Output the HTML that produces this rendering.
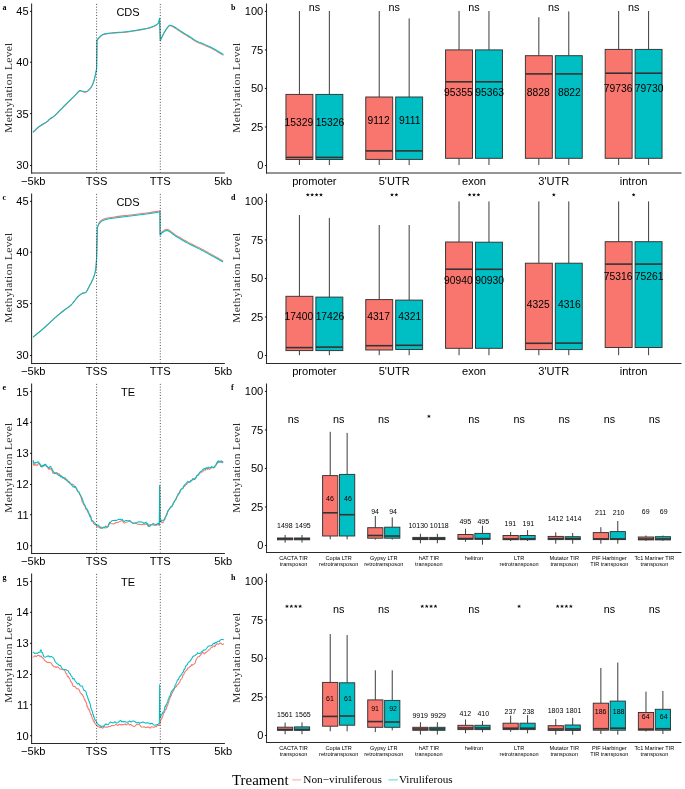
<!DOCTYPE html>
<html><head><meta charset="utf-8"><style>
html,body{margin:0;padding:0;background:#fff;}
svg{display:block;will-change:transform;}
</style></head><body>
<svg width="685" height="789" viewBox="0 0 685 789">
<rect x="0" y="0" width="685" height="789" fill="#fff"/>
<text x="2.6" y="10" font-size="8" text-anchor="start" font-family='"Liberation Serif", serif' font-weight="bold" fill="#000" >a</text>
<text transform="translate(12.2,87.6) rotate(-90)" font-size="11.4" letter-spacing="0.35" text-anchor="middle" font-family='"Liberation Serif", serif' fill="#2a2a2a">Methylation Level</text>
<line x1="31.6" y1="3.5" x2="31.6" y2="173.5" stroke="#2a2a2a" stroke-width="1.07" />
<line x1="31.1" y1="173" x2="224.9" y2="173" stroke="#2a2a2a" stroke-width="1" />
<line x1="30" y1="11.4" x2="31.6" y2="11.4" stroke="#000" stroke-width="0.9" />
<text x="28.6" y="15.3" font-size="11.1" text-anchor="end" font-family='"Liberation Sans", sans-serif' font-weight="normal" fill="#000" >45</text>
<line x1="30" y1="62.2" x2="31.6" y2="62.2" stroke="#000" stroke-width="0.9" />
<text x="28.6" y="66.1" font-size="11.1" text-anchor="end" font-family='"Liberation Sans", sans-serif' font-weight="normal" fill="#000" >40</text>
<line x1="30" y1="113.6" x2="31.6" y2="113.6" stroke="#000" stroke-width="0.9" />
<text x="28.6" y="117.5" font-size="11.1" text-anchor="end" font-family='"Liberation Sans", sans-serif' font-weight="normal" fill="#000" >35</text>
<line x1="30" y1="165.5" x2="31.6" y2="165.5" stroke="#000" stroke-width="0.9" />
<text x="28.6" y="169.4" font-size="11.1" text-anchor="end" font-family='"Liberation Sans", sans-serif' font-weight="normal" fill="#000" >30</text>
<text x="33.3" y="184.5" font-size="11.1" text-anchor="middle" font-family='"Liberation Sans", sans-serif' font-weight="normal" fill="#000" >&#8722;5kb</text>
<text x="96.6" y="184.5" font-size="11.1" text-anchor="middle" font-family='"Liberation Sans", sans-serif' font-weight="normal" fill="#000" >TSS</text>
<text x="160.3" y="184.5" font-size="11.1" text-anchor="middle" font-family='"Liberation Sans", sans-serif' font-weight="normal" fill="#000" >TTS</text>
<text x="223.3" y="184.5" font-size="11.1" text-anchor="middle" font-family='"Liberation Sans", sans-serif' font-weight="normal" fill="#000" >5kb</text>
<text x="128" y="15.7" font-size="11" text-anchor="middle" font-family='"Liberation Sans", sans-serif' font-weight="normal" fill="#000" >CDS</text>
<path d="M33.3,132.2 L33.91,131.62 L34.74,130.81 L35.73,129.85 L36.82,128.83 L37.96,127.82 L39.1,126.9 L40.31,126.05 L41.67,125.19 L43.07,124.34 L44.43,123.53 L45.67,122.78 L46.7,122.1 L47.46,121.52 L48.01,121.03 L48.44,120.59 L48.83,120.18 L49.25,119.76 L49.8,119.3 L50.45,118.84 L51.14,118.4 L51.86,117.96 L52.63,117.47 L53.44,116.89 L54.3,116.2 L55.21,115.37 L56.16,114.44 L57.16,113.43 L58.2,112.36 L59.28,111.24 L60.4,110.1 L61.58,108.92 L62.82,107.68 L64.1,106.39 L65.4,105.09 L66.71,103.78 L68,102.5 L69.32,101.19 L70.7,99.83 L72.09,98.46 L73.42,97.15 L74.64,95.95 L75.7,94.9 L76.57,94 L77.29,93.19 L77.89,92.49 L78.44,91.91 L78.96,91.44 L79.5,91.1 L80.05,90.93 L80.56,90.94 L81.05,91.08 L81.53,91.27 L82.01,91.46 L82.5,91.6 L83,91.72 L83.5,91.88 L83.99,92.04 L84.49,92.17 L84.99,92.24 L85.5,92.2 L86.01,92.06 L86.53,91.85 L87.05,91.58 L87.57,91.24 L88.09,90.84 L88.6,90.4 L89.11,89.9 L89.63,89.34 L90.15,88.73 L90.66,88.06 L91.14,87.35 L91.6,86.6 L92.03,85.82 L92.44,85 L92.82,84.14 L93.2,83.22 L93.55,82.25 L93.9,81.2 L94.24,80.02 L94.57,78.71 L94.89,77.34 L95.19,75.99 L95.46,74.71 L95.7,73.6 L95.91,72.62 L96.1,71.7 L96.26,70.88 L96.4,70.15 L96.51,69.55 L96.6,69.1 L97,40.3 L97.26,40.01 L97.62,39.6 L98.05,39.12 L98.52,38.6 L99.01,38.08 L99.5,37.6 L99.97,37.13 L100.44,36.64 L100.93,36.16 L101.45,35.69 L102.04,35.26 L102.7,34.9 L103.44,34.61 L104.25,34.37 L105.11,34.17 L106.03,34.01 L106.99,33.85 L108,33.7 L109.04,33.55 L110.11,33.43 L111.23,33.32 L112.41,33.21 L113.66,33.11 L115,33 L116.45,32.89 L118,32.79 L119.63,32.69 L121.29,32.59 L122.96,32.46 L124.6,32.3 L126.21,32.11 L127.82,31.9 L129.44,31.67 L131.07,31.42 L132.72,31.16 L134.4,30.9 L136.18,30.62 L138.05,30.32 L139.95,30.01 L141.79,29.69 L143.5,29.39 L145,29.1 L146.26,28.84 L147.33,28.6 L148.27,28.36 L149.13,28.13 L149.95,27.88 L150.8,27.6 L151.67,27.3 L152.51,26.99 L153.33,26.67 L154.11,26.33 L154.83,25.97 L155.5,25.6 L156.11,25.22 L156.66,24.84 L157.17,24.45 L157.63,24.02 L158.04,23.54 L158.4,23 L158.71,22.32 L158.97,21.5 L159.18,20.64 L159.35,19.81 L159.49,19.1 L159.6,18.6 L160.3,40.8 L160.53,40.3 L160.84,39.6 L161.22,38.78 L161.63,37.89 L162.07,36.97 L162.5,36.1 L162.94,35.24 L163.39,34.35 L163.87,33.44 L164.36,32.54 L164.87,31.65 L165.4,30.8 L165.96,29.94 L166.57,29.06 L167.2,28.19 L167.81,27.4 L168.39,26.72 L168.9,26.2 L169.3,25.85 L169.6,25.64 L169.86,25.54 L170.14,25.54 L170.5,25.63 L171,25.8 L171.65,26.07 L172.41,26.46 L173.24,26.94 L174.13,27.48 L175.02,28.04 L175.9,28.6 L176.73,29.15 L177.54,29.71 L178.36,30.29 L179.24,30.91 L180.2,31.58 L181.3,32.3 L182.58,33.1 L184.02,33.98 L185.55,34.91 L187.1,35.84 L188.61,36.75 L190,37.6 L191.18,38.37 L192.2,39.07 L193.17,39.75 L194.21,40.44 L195.45,41.18 L197,42 L198.95,42.91 L201.22,43.87 L203.68,44.89 L206.21,45.94 L208.7,47.01 L211,48.1 L213.27,49.3 L215.62,50.63 L217.93,51.98 L220.03,53.25 L221.81,54.33 L223.1,55.1" fill="none" stroke="#F8766D" stroke-width="1.05" stroke-linejoin="round" stroke-linecap="round"/>
<path d="M33.3,131.8 L33.91,131.22 L34.74,130.41 L35.73,129.45 L36.82,128.43 L37.96,127.42 L39.1,126.5 L40.31,125.65 L41.67,124.79 L43.07,123.94 L44.43,123.13 L45.67,122.38 L46.7,121.7 L47.46,121.12 L48.01,120.63 L48.44,120.19 L48.83,119.78 L49.25,119.36 L49.8,118.9 L50.45,118.44 L51.14,118 L51.86,117.56 L52.63,117.07 L53.44,116.49 L54.3,115.8 L55.21,114.97 L56.16,114.04 L57.16,113.03 L58.2,111.96 L59.28,110.84 L60.4,109.7 L61.58,108.52 L62.82,107.28 L64.1,105.99 L65.4,104.69 L66.71,103.38 L68,102.1 L69.32,100.79 L70.7,99.43 L72.09,98.06 L73.42,96.75 L74.64,95.55 L75.7,94.5 L76.57,93.6 L77.29,92.79 L77.89,92.09 L78.44,91.51 L78.96,91.04 L79.5,90.7 L80.05,90.53 L80.56,90.54 L81.05,90.67 L81.53,90.87 L82.01,91.06 L82.5,91.2 L83,91.32 L83.5,91.48 L83.99,91.64 L84.49,91.77 L84.99,91.84 L85.5,91.8 L86.01,91.66 L86.53,91.45 L87.05,91.17 L87.57,90.84 L88.09,90.44 L88.6,90 L89.11,89.5 L89.63,88.94 L90.15,88.32 L90.66,87.66 L91.14,86.95 L91.6,86.2 L92.03,85.42 L92.44,84.6 L92.82,83.74 L93.2,82.82 L93.55,81.85 L93.9,80.8 L94.24,79.62 L94.57,78.31 L94.89,76.94 L95.19,75.59 L95.46,74.31 L95.7,73.2 L95.91,72.22 L96.1,71.3 L96.26,70.48 L96.4,69.75 L96.51,69.15 L96.6,68.7 L97,39.9 L97.26,39.61 L97.62,39.2 L98.05,38.72 L98.52,38.2 L99.01,37.68 L99.5,37.2 L99.97,36.73 L100.44,36.24 L100.93,35.76 L101.45,35.29 L102.04,34.86 L102.7,34.5 L103.44,34.21 L104.25,33.97 L105.11,33.77 L106.03,33.61 L106.99,33.45 L108,33.3 L109.04,33.15 L110.11,33.03 L111.23,32.92 L112.41,32.81 L113.66,32.71 L115,32.6 L116.45,32.49 L118,32.39 L119.63,32.29 L121.29,32.19 L122.96,32.06 L124.6,31.9 L126.21,31.71 L127.82,31.5 L129.44,31.27 L131.07,31.02 L132.72,30.76 L134.4,30.5 L136.18,30.22 L138.05,29.92 L139.95,29.61 L141.79,29.29 L143.5,28.99 L145,28.7 L146.26,28.44 L147.33,28.2 L148.27,27.96 L149.13,27.73 L149.95,27.48 L150.8,27.2 L151.67,26.9 L152.51,26.59 L153.33,26.27 L154.11,25.93 L154.83,25.57 L155.5,25.2 L156.11,24.82 L156.66,24.44 L157.17,24.05 L157.63,23.62 L158.04,23.14 L158.4,22.6 L158.71,21.92 L158.97,21.1 L159.18,20.24 L159.35,19.41 L159.49,18.7 L159.6,18.2 L160.3,40.4 L160.53,39.9 L160.84,39.2 L161.22,38.38 L161.63,37.49 L162.07,36.57 L162.5,35.7 L162.94,34.84 L163.39,33.95 L163.87,33.04 L164.36,32.14 L164.87,31.25 L165.4,30.4 L165.96,29.54 L166.57,28.66 L167.2,27.79 L167.81,27 L168.39,26.32 L168.9,25.8 L169.3,25.46 L169.6,25.25 L169.86,25.16 L170.14,25.17 L170.5,25.26 L171,25.4 L171.65,25.62 L172.41,25.94 L173.24,26.34 L174.13,26.8 L175.02,27.29 L175.9,27.8 L176.73,28.32 L177.54,28.88 L178.36,29.47 L179.24,30.1 L180.2,30.78 L181.3,31.5 L182.58,32.3 L184.02,33.18 L185.55,34.11 L187.1,35.04 L188.61,35.95 L190,36.8 L191.18,37.57 L192.2,38.27 L193.17,38.95 L194.21,39.64 L195.45,40.38 L197,41.2 L198.95,42.11 L201.22,43.07 L203.68,44.09 L206.21,45.14 L208.7,46.21 L211,47.3 L213.27,48.5 L215.62,49.83 L217.93,51.18 L220.03,52.45 L221.81,53.53 L223.1,54.3" fill="none" stroke="#00BFC4" stroke-width="1.05" stroke-linejoin="round" stroke-linecap="round"/>
<line x1="96.6" y1="3.9" x2="96.6" y2="172.4" stroke="#1a1a1a" stroke-width="0.85" stroke-dasharray="0.9 1.9"/>
<line x1="160.3" y1="3.9" x2="160.3" y2="172.4" stroke="#1a1a1a" stroke-width="0.85" stroke-dasharray="0.9 1.9"/>
<text x="2.6" y="200" font-size="8" text-anchor="start" font-family='"Liberation Serif", serif' font-weight="bold" fill="#000" >c</text>
<text transform="translate(12.2,277.6) rotate(-90)" font-size="11.4" letter-spacing="0.35" text-anchor="middle" font-family='"Liberation Serif", serif' fill="#2a2a2a">Methylation Level</text>
<line x1="31.6" y1="193.5" x2="31.6" y2="364" stroke="#2a2a2a" stroke-width="1.07" />
<line x1="31.1" y1="363.5" x2="224.9" y2="363.5" stroke="#2a2a2a" stroke-width="1" />
<line x1="30" y1="201.4" x2="31.6" y2="201.4" stroke="#000" stroke-width="0.9" />
<text x="28.6" y="205.3" font-size="11.1" text-anchor="end" font-family='"Liberation Sans", sans-serif' font-weight="normal" fill="#000" >45</text>
<line x1="30" y1="252.2" x2="31.6" y2="252.2" stroke="#000" stroke-width="0.9" />
<text x="28.6" y="256.1" font-size="11.1" text-anchor="end" font-family='"Liberation Sans", sans-serif' font-weight="normal" fill="#000" >40</text>
<line x1="30" y1="303.6" x2="31.6" y2="303.6" stroke="#000" stroke-width="0.9" />
<text x="28.6" y="307.5" font-size="11.1" text-anchor="end" font-family='"Liberation Sans", sans-serif' font-weight="normal" fill="#000" >35</text>
<line x1="30" y1="355.5" x2="31.6" y2="355.5" stroke="#000" stroke-width="0.9" />
<text x="28.6" y="359.4" font-size="11.1" text-anchor="end" font-family='"Liberation Sans", sans-serif' font-weight="normal" fill="#000" >30</text>
<text x="33.3" y="374.5" font-size="11.1" text-anchor="middle" font-family='"Liberation Sans", sans-serif' font-weight="normal" fill="#000" >&#8722;5kb</text>
<text x="96.6" y="374.5" font-size="11.1" text-anchor="middle" font-family='"Liberation Sans", sans-serif' font-weight="normal" fill="#000" >TSS</text>
<text x="160.3" y="374.5" font-size="11.1" text-anchor="middle" font-family='"Liberation Sans", sans-serif' font-weight="normal" fill="#000" >TTS</text>
<text x="223.3" y="374.5" font-size="11.1" text-anchor="middle" font-family='"Liberation Sans", sans-serif' font-weight="normal" fill="#000" >5kb</text>
<text x="128" y="205.7" font-size="11" text-anchor="middle" font-family='"Liberation Sans", sans-serif' font-weight="normal" fill="#000" >CDS</text>
<path d="M33.3,336.9 L34.28,336.1 L35.66,335 L37.27,333.69 L39,332.28 L40.69,330.88 L42.2,329.6 L43.54,328.41 L44.83,327.24 L46.08,326.08 L47.31,324.91 L48.55,323.76 L49.8,322.6 L51.07,321.43 L52.33,320.26 L53.6,319.09 L54.87,317.94 L56.13,316.8 L57.4,315.7 L58.68,314.62 L59.99,313.55 L61.29,312.51 L62.58,311.49 L63.82,310.52 L65,309.6 L66.1,308.79 L67.12,308.09 L68.1,307.44 L69.07,306.75 L70.06,305.96 L71.1,305 L72.22,303.77 L73.4,302.33 L74.59,300.77 L75.77,299.24 L76.89,297.84 L77.9,296.7 L78.81,295.82 L79.64,295.12 L80.41,294.56 L81.13,294.09 L81.82,293.68 L82.5,293.3 L83.15,293.03 L83.75,292.92 L84.33,292.87 L84.88,292.78 L85.44,292.56 L86,292.1 L86.57,291.38 L87.13,290.49 L87.68,289.45 L88.24,288.33 L88.81,287.16 L89.4,286 L90.03,284.84 L90.69,283.63 L91.36,282.39 L92.01,281.1 L92.64,279.77 L93.2,278.4 L93.71,277.02 L94.19,275.65 L94.62,274.23 L95.03,272.73 L95.39,271.1 L95.7,269.3 L95.97,267.12 L96.18,264.57 L96.36,261.88 L96.5,259.32 L96.61,257.14 L96.7,255.6 L97.3,227.6 L97.56,226.92 L97.89,225.96 L98.29,224.84 L98.76,223.67 L99.3,222.58 L99.9,221.7 L100.54,221.02 L101.21,220.44 L101.95,219.94 L102.79,219.5 L103.76,219.1 L104.9,218.7 L106.23,218.33 L107.74,218 L109.38,217.71 L111.11,217.43 L112.9,217.17 L114.7,216.9 L116.55,216.63 L118.48,216.37 L120.47,216.13 L122.49,215.88 L124.5,215.64 L126.5,215.4 L128.48,215.16 L130.46,214.93 L132.45,214.71 L134.44,214.48 L136.42,214.24 L138.4,214 L140.41,213.74 L142.45,213.47 L144.49,213.2 L146.49,212.93 L148.4,212.66 L150.2,212.4 L151.94,212.14 L153.68,211.88 L155.34,211.63 L156.84,211.39 L158.12,211.17 L159.1,211 L159.71,210.87 L160,210.78 L160.06,210.71 L159.99,210.67 L159.91,210.63 L159.9,210.6 L160.1,234.1 L160.39,233.76 L160.78,233.27 L161.24,232.69 L161.78,232.1 L162.37,231.55 L163,231.1 L163.67,230.68 L164.37,230.23 L165.14,229.82 L165.97,229.53 L166.89,229.43 L167.9,229.6 L169,230.1 L170.17,230.86 L171.42,231.83 L172.77,232.9 L174.22,234.02 L175.8,235.1 L177.52,236.17 L179.37,237.3 L181.33,238.46 L183.37,239.65 L185.47,240.83 L187.6,242 L189.81,243.15 L192.12,244.31 L194.49,245.47 L196.87,246.63 L199.19,247.77 L201.4,248.9 L203.52,250.02 L205.6,251.14 L207.63,252.25 L209.59,253.34 L211.48,254.39 L213.3,255.4 L215.12,256.41 L216.97,257.45 L218.74,258.46 L220.36,259.37 L221.71,260.14 L222.7,260.7" fill="none" stroke="#F8766D" stroke-width="1.05" stroke-linejoin="round" stroke-linecap="round"/>
<path d="M33.3,336.9 L34.28,336.1 L35.66,335 L37.27,333.69 L39,332.28 L40.69,330.88 L42.2,329.6 L43.54,328.41 L44.83,327.24 L46.08,326.08 L47.31,324.91 L48.55,323.76 L49.8,322.6 L51.07,321.43 L52.33,320.26 L53.6,319.09 L54.87,317.94 L56.13,316.8 L57.4,315.7 L58.68,314.62 L59.99,313.55 L61.29,312.51 L62.58,311.49 L63.82,310.52 L65,309.6 L66.1,308.79 L67.12,308.09 L68.1,307.44 L69.07,306.75 L70.06,305.96 L71.1,305 L72.22,303.77 L73.4,302.33 L74.59,300.77 L75.77,299.24 L76.89,297.84 L77.9,296.7 L78.81,295.82 L79.64,295.12 L80.41,294.56 L81.13,294.09 L81.82,293.68 L82.5,293.3 L83.15,293.03 L83.75,292.92 L84.33,292.87 L84.88,292.78 L85.44,292.56 L86,292.1 L86.57,291.38 L87.13,290.49 L87.68,289.45 L88.24,288.33 L88.81,287.16 L89.4,286 L90.03,284.84 L90.69,283.63 L91.36,282.39 L92.01,281.1 L92.64,279.77 L93.2,278.4 L93.71,277.02 L94.19,275.65 L94.62,274.23 L95.03,272.73 L95.39,271.1 L95.7,269.3 L95.97,267.12 L96.18,264.57 L96.36,261.88 L96.5,259.32 L96.61,257.14 L96.7,255.6 L97.3,227.6 L97.56,227.06 L97.89,226.29 L98.29,225.39 L98.76,224.44 L99.3,223.55 L99.9,222.8 L100.54,222.18 L101.21,221.62 L101.95,221.11 L102.79,220.64 L103.76,220.21 L104.9,219.8 L106.23,219.43 L107.74,219.1 L109.38,218.81 L111.11,218.53 L112.9,218.27 L114.7,218 L116.55,217.73 L118.48,217.47 L120.47,217.23 L122.49,216.98 L124.5,216.74 L126.5,216.5 L128.48,216.26 L130.46,216.03 L132.45,215.81 L134.44,215.58 L136.42,215.34 L138.4,215.1 L140.41,214.84 L142.45,214.57 L144.49,214.3 L146.49,214.03 L148.4,213.76 L150.2,213.5 L151.94,213.24 L153.68,212.98 L155.34,212.73 L156.84,212.49 L158.12,212.27 L159.1,212.1 L159.71,211.97 L160,211.88 L160.06,211.81 L159.99,211.77 L159.91,211.73 L159.9,211.7 L160.1,235.2 L160.39,234.86 L160.78,234.37 L161.24,233.79 L161.78,233.2 L162.37,232.65 L163,232.2 L163.67,231.78 L164.37,231.33 L165.14,230.92 L165.97,230.63 L166.89,230.53 L167.9,230.7 L169,231.2 L170.17,231.96 L171.42,232.92 L172.77,234 L174.22,235.12 L175.8,236.2 L177.52,237.27 L179.37,238.4 L181.33,239.56 L183.37,240.75 L185.47,241.93 L187.6,243.1 L189.81,244.25 L192.12,245.41 L194.49,246.58 L196.87,247.73 L199.19,248.87 L201.4,250 L203.52,251.12 L205.6,252.24 L207.63,253.35 L209.59,254.44 L211.48,255.49 L213.3,256.5 L215.12,257.51 L216.97,258.55 L218.74,259.56 L220.36,260.47 L221.71,261.24 L222.7,261.8" fill="none" stroke="#00BFC4" stroke-width="1.05" stroke-linejoin="round" stroke-linecap="round"/>
<line x1="96.6" y1="193.9" x2="96.6" y2="362.4" stroke="#1a1a1a" stroke-width="0.85" stroke-dasharray="0.9 1.9"/>
<line x1="160.3" y1="193.9" x2="160.3" y2="362.4" stroke="#1a1a1a" stroke-width="0.85" stroke-dasharray="0.9 1.9"/>
<text x="2.6" y="390" font-size="8" text-anchor="start" font-family='"Liberation Serif", serif' font-weight="bold" fill="#000" >e</text>
<text transform="translate(12.2,467.6) rotate(-90)" font-size="11.4" letter-spacing="0.35" text-anchor="middle" font-family='"Liberation Serif", serif' fill="#2a2a2a">Methylation Level</text>
<line x1="31.6" y1="383.5" x2="31.6" y2="554" stroke="#2a2a2a" stroke-width="1.07" />
<line x1="31.1" y1="553.5" x2="224.9" y2="553.5" stroke="#2a2a2a" stroke-width="1" />
<line x1="30" y1="391.6" x2="31.6" y2="391.6" stroke="#000" stroke-width="0.9" />
<text x="28.6" y="395.5" font-size="11.1" text-anchor="end" font-family='"Liberation Sans", sans-serif' font-weight="normal" fill="#000" >15</text>
<line x1="30" y1="422.3" x2="31.6" y2="422.3" stroke="#000" stroke-width="0.9" />
<text x="28.6" y="426.2" font-size="11.1" text-anchor="end" font-family='"Liberation Sans", sans-serif' font-weight="normal" fill="#000" >14</text>
<line x1="30" y1="453.3" x2="31.6" y2="453.3" stroke="#000" stroke-width="0.9" />
<text x="28.6" y="457.2" font-size="11.1" text-anchor="end" font-family='"Liberation Sans", sans-serif' font-weight="normal" fill="#000" >13</text>
<line x1="30" y1="484.5" x2="31.6" y2="484.5" stroke="#000" stroke-width="0.9" />
<text x="28.6" y="488.4" font-size="11.1" text-anchor="end" font-family='"Liberation Sans", sans-serif' font-weight="normal" fill="#000" >12</text>
<line x1="30" y1="514.7" x2="31.6" y2="514.7" stroke="#000" stroke-width="0.9" />
<text x="28.6" y="518.6" font-size="11.1" text-anchor="end" font-family='"Liberation Sans", sans-serif' font-weight="normal" fill="#000" >11</text>
<line x1="30" y1="545.7" x2="31.6" y2="545.7" stroke="#000" stroke-width="0.9" />
<text x="28.6" y="549.6" font-size="11.1" text-anchor="end" font-family='"Liberation Sans", sans-serif' font-weight="normal" fill="#000" >10</text>
<text x="33.3" y="564.5" font-size="11.1" text-anchor="middle" font-family='"Liberation Sans", sans-serif' font-weight="normal" fill="#000" >&#8722;5kb</text>
<text x="96.6" y="564.5" font-size="11.1" text-anchor="middle" font-family='"Liberation Sans", sans-serif' font-weight="normal" fill="#000" >TSS</text>
<text x="160.3" y="564.5" font-size="11.1" text-anchor="middle" font-family='"Liberation Sans", sans-serif' font-weight="normal" fill="#000" >TTS</text>
<text x="223.3" y="564.5" font-size="11.1" text-anchor="middle" font-family='"Liberation Sans", sans-serif' font-weight="normal" fill="#000" >5kb</text>
<text x="128" y="395.7" font-size="11" text-anchor="middle" font-family='"Liberation Sans", sans-serif' font-weight="normal" fill="#000" >TE</text>
<path d="M33.2,461.67 L33.29,462.44 L33.39,463.3 L33.52,464.42 L33.72,464.85 L34,465.66 L34.4,464.19 L34.97,464.24 L35.71,465.18 L36.54,464.9 L37.38,465.21 L38.16,463.64 L38.8,463.67 L39.28,463.44 L39.64,464.24 L39.95,465.02 L40.24,464.45 L40.58,464.73 L41,465.05 L41.52,466.54 L42.1,466.89 L42.71,465.62 L43.35,466.24 L43.98,465.12 L44.6,465.66 L45.21,465.09 L45.82,464.73 L46.44,466.68 L47.04,466.52 L47.63,466.6 L48.2,468.42 L48.74,469.16 L49.25,468.25 L49.74,469.21 L50.23,468.84 L50.71,469.06 L51.2,468.37 L51.66,469.99 L52.09,470.76 L52.52,472.22 L52.97,473.26 L53.49,472.84 L54.1,472.96 L54.83,472.73 L55.66,472.66 L56.56,472.56 L57.47,473.15 L58.37,474.3 L59.2,473.83 L59.97,475.32 L60.72,475.66 L61.44,476.05 L62.16,477.64 L62.87,478.01 L63.6,478.06 L64.33,478.63 L65.07,479.6 L65.81,478.89 L66.54,480.71 L67.27,479.85 L68,481.26 L68.72,482.58 L69.44,481.86 L70.15,483.52 L70.86,483.86 L71.58,484.83 L72.3,484.38 L73.04,484.39 L73.79,484.84 L74.54,486.97 L75.28,486.7 L76.01,488.09 L76.7,489.68 L77.36,491.1 L77.99,491.11 L78.6,491.73 L79.2,493.05 L79.8,494.96 L80.4,495.18 L81,497.42 L81.58,499.54 L82.16,501.62 L82.74,501.69 L83.35,504.42 L84,504.64 L84.69,505.81 L85.41,507.52 L86.15,509.61 L86.9,510.01 L87.66,512.08 L88.4,513.05 L89.13,513.86 L89.5,514.32 L89.87,514.64 L90.23,515.01 L90.6,515.76 L90.97,517.73 L91.33,519.88 L92.07,520.31 L92.8,520.75 L93.53,523.4 L94.27,524.17 L95.01,524.57 L95.74,524.64 L96.47,525.67 L97.2,526.95 L97.9,527.01 L98.58,527.1 L99.26,526.43 L99.95,528 L100.69,526.93 L101.5,527.33 L102.43,528.23 L103.46,527.04 L104.54,527.55 L105.6,528.14 L106.57,527.58 L107.4,527.43 L108.01,525.6 L108.43,525.01 L108.76,523.76 L109.12,524.33 L109.6,523.22 L110.3,522.82 L111.28,523.72 L112.46,523.81 L113.77,524.08 L115.11,523.02 L116.42,522.47 L117.6,522.65 L118.64,522.16 L119.61,521.44 L120.54,521.28 L121.46,520.63 L122.4,520.78 L123.4,522.23 L124.42,523 L125.43,522.74 L126.46,522.37 L127.55,521.88 L128.72,521.13 L130,521.19 L131.45,522.43 L133.06,523.42 L134.76,522.95 L136.46,523.73 L138.1,524.22 L139.6,524.38 L141.02,524.43 L142.42,524.71 L143.76,524.02 L144.98,524.43 L146.05,523.79 L146.9,523.99 L147.44,524.86 L147.67,525.35 L147.74,524.89 L147.8,526.2 L147.97,526.34 L148.4,526.24 L149.13,524.85 L150.04,525.14 L151.07,524.52 L152.16,524.98 L153.22,524.68 L154.2,525.25 L155.15,525.16 L156.14,525.41 L157.11,524.52 L158,524.66 L158.75,524.92 L159.3,525.24 L159.31,523.5 L159.32,523.22 L159.33,522.72 L159.34,521.64 L159.35,521.27 L159.36,520.63 L159.37,518.9 L159.37,517.57 L159.38,515.63 L159.39,515.64 L159.4,515.46 L159.41,513.94 L159.42,513.17 L159.43,512.41 L159.44,511.61 L159.45,509.53 L159.46,509.32 L159.47,508.37 L159.48,507.62 L159.49,506.27 L159.5,505.56 L159.5,505.1 L159.51,504.14 L159.52,503.39 L159.53,501.05 L159.54,499.65 L159.55,499.09 L159.56,498.84 L159.57,497.35 L159.58,497.15 L159.59,496.52 L159.6,494.47 L159.61,493.88 L159.62,492.61 L159.63,491.13 L159.63,490.09 L159.64,489.51 L159.65,488.49 L159.66,487.55 L159.67,486.28 L159.68,486.12 L159.69,485.44 L159.7,485.18 L159.71,486.39 L159.71,486.69 L159.72,488.73 L159.73,488.28 L159.74,489.33 L159.75,490.04 L159.75,491.13 L159.76,491.49 L159.77,493.68 L159.77,494.28 L159.78,494.28 L159.79,495.97 L159.8,496.16 L159.81,497.67 L159.81,498.46 L159.82,499.83 L159.83,501.83 L159.83,503.03 L159.84,503.22 L159.85,504.6 L159.86,505.4 L159.87,505.65 L159.87,505.7 L159.88,507.13 L159.89,508.26 L159.89,510.16 L159.9,511.63 L159.91,512.07 L159.92,512.15 L159.93,513.8 L159.93,513.15 L159.94,513.44 L159.95,515.02 L159.95,516.41 L159.96,516.54 L159.97,518.09 L159.98,519.94 L159.99,520.23 L159.99,520.92 L160,521.26 L160.39,521.03 L160.91,522.42 L161.53,521.84 L162.23,522.64 L162.96,522.65 L163.7,521.43 L164.48,519.21 L164.9,519.44 L165.32,518.13 L165.76,516.74 L166.21,515.35 L166.65,515.59 L167.1,514.2 L167.54,512.59 L167.97,511.71 L168.8,509.38 L169.57,508.77 L170.32,507.64 L171.04,506.27 L171.76,506.17 L172.47,505.72 L173.2,503.11 L173.94,502.18 L174.7,500.45 L175.45,500.31 L176.19,499.27 L176.91,496.93 L177.6,495.17 L178.23,493.44 L178.8,493.81 L179.36,491.99 L179.92,491.22 L180.52,490.08 L181.2,489.43 L181.97,488.64 L182.81,488.2 L183.7,486.29 L184.6,486.37 L185.47,485.11 L186.3,484.64 L187.07,483.65 L187.82,482.75 L188.54,482.51 L189.26,481.98 L189.97,481.22 L190.7,481.4 L191.43,480.95 L192.17,479.31 L192.9,478.7 L193.63,478.59 L194.37,479.28 L195.1,479.26 L195.82,478.09 L196.51,475.84 L197.21,475.84 L197.93,474.64 L198.69,473.94 L199.5,473.54 L200.4,472.87 L201.38,471.87 L202.4,471.99 L203.42,470.67 L204.4,469.77 L205.3,470.14 L206.1,468.87 L206.82,468.41 L207.5,469.36 L208.18,468.18 L208.9,469.16 L209.7,469.21 L210.62,468.44 L211.64,467.45 L212.69,467.74 L213.73,467.93 L214.68,466.08 L215.5,465.56 L216.13,465.13 L216.63,464.43 L217.04,463.35 L217.43,462.1 L217.86,462.16 L218.4,462.6 L219.1,461.22 L219.92,460.87 L220.78,462.05 L221.6,462.7 L222.3,462.82 L222.8,461.48" fill="none" stroke="#F8766D" stroke-width="1.05" stroke-linejoin="round" stroke-linecap="round"/>
<path d="M33.2,460.61 L33.29,460.37 L33.39,461.67 L33.52,461.43 L33.72,462.58 L34,463.01 L34.4,462.61 L34.97,463.29 L35.71,462.48 L36.54,462.77 L37.38,462.03 L38.16,461.66 L38.8,462.3 L39.28,463.78 L39.64,463.33 L39.95,463.57 L40.24,464.82 L40.58,466.36 L41,466.42 L41.52,465.97 L42.1,466.86 L42.71,465.18 L43.35,465.95 L43.98,465.11 L44.6,464.44 L45.21,464.21 L45.82,464.74 L46.44,466.39 L47.04,466.11 L47.63,467 L48.2,467.7 L48.74,467.49 L49.25,467.72 L49.74,466.76 L50.23,466.25 L50.71,466.42 L51.2,467.79 L51.66,468.36 L52.09,468.85 L52.52,470.15 L52.97,470.97 L53.49,471.41 L54.1,472.95 L54.83,473.71 L55.66,473.24 L56.56,473.82 L57.47,474.15 L58.37,475.27 L59.2,475.78 L59.97,475.36 L60.72,476.91 L61.44,476.13 L62.16,476.62 L62.87,477.88 L63.6,477.45 L64.33,478.13 L65.07,477.68 L65.81,479 L66.54,480.12 L67.27,480.56 L68,481.74 L68.72,481.5 L69.44,482.58 L70.15,483.31 L70.86,484.04 L71.58,484.48 L72.3,485.83 L73.04,486.99 L73.79,486.74 L74.54,487.19 L75.28,486.34 L76.01,487.6 L76.7,488.6 L77.36,490.44 L77.99,491.62 L78.6,491.67 L79.2,492.54 L79.8,494.27 L80.4,494.43 L81,496.19 L81.58,497.3 L82.16,498.57 L82.74,499.89 L83.35,502.86 L84,503.68 L84.69,504.9 L85.41,506.35 L86.15,508.69 L86.9,508.75 L87.66,510.17 L88.4,511.83 L89.13,514.26 L89.5,515.47 L89.87,516.61 L90.23,516.35 L90.6,516.9 L90.97,517.45 L91.33,519.3 L92.07,521.56 L92.8,521.49 L93.53,521.84 L94.27,522.47 L95.01,523.07 L95.74,524.18 L96.47,525.23 L97.2,525.29 L97.9,524.93 L98.58,525.76 L99.26,526.2 L99.95,526.93 L100.69,528.19 L101.5,528.28 L102.43,527.86 L103.46,527.73 L104.54,527.63 L105.6,526.03 L106.57,526.83 L107.4,526.82 L108.01,526.77 L108.43,526.27 L108.76,524.81 L109.12,523.75 L109.6,522.3 L110.3,522.54 L111.28,521.32 L112.46,520.59 L113.77,520.44 L115.11,520.2 L116.42,520.42 L117.6,519.85 L118.64,519.38 L119.61,519.43 L120.54,519.33 L121.46,519.85 L122.4,519.4 L123.4,521.04 L124.42,521.4 L125.43,520.63 L126.46,520.49 L127.55,520.68 L128.72,520.89 L130,520.55 L131.45,522.05 L133.06,523.3 L134.76,522.94 L136.46,522.88 L138.1,522.06 L139.6,521.7 L141.02,522.08 L142.42,522.14 L143.76,523.45 L144.98,522.75 L146.05,522.12 L146.9,523.91 L147.44,524.11 L147.67,523.55 L147.74,524.28 L147.8,523.66 L147.97,524.49 L148.4,525.93 L149.13,526.37 L150.04,526.12 L151.07,524.9 L152.16,524.34 L153.22,523.5 L154.2,524.32 L155.15,524.22 L156.14,524.67 L157.11,523.89 L158,523.2 L158.75,524.1 L159.3,524.96 L159.31,524.27 L159.32,523.38 L159.33,522.52 L159.34,521.46 L159.35,519.35 L159.36,518.42 L159.37,517.15 L159.37,515.33 L159.38,513.92 L159.39,513.29 L159.4,512.49 L159.41,512.61 L159.42,512.84 L159.43,511.45 L159.44,511.35 L159.45,511.01 L159.46,510.34 L159.47,508.27 L159.48,506.41 L159.49,504.99 L159.5,503.74 L159.5,502.67 L159.51,502.6 L159.52,502.76 L159.53,502.31 L159.54,500.87 L159.55,500.05 L159.56,499.52 L159.57,497.25 L159.58,496.86 L159.59,496.79 L159.6,496.06 L159.61,495.19 L159.62,493.71 L159.63,491.83 L159.63,491.73 L159.64,490.27 L159.65,490.09 L159.66,489.96 L159.67,488.22 L159.68,486.87 L159.69,486.92 L159.7,486.06 L159.71,485.77 L159.71,485.92 L159.72,486.47 L159.73,488.85 L159.74,490.34 L159.75,490.13 L159.75,491.91 L159.76,493.65 L159.77,494.3 L159.77,494.39 L159.78,495.29 L159.79,495.28 L159.8,495.42 L159.81,498.02 L159.81,499.15 L159.82,499.91 L159.83,501.64 L159.83,501.9 L159.84,503.42 L159.85,504.56 L159.86,504.25 L159.87,504.58 L159.87,505.26 L159.88,505.93 L159.89,507.47 L159.89,508.01 L159.9,509.06 L159.91,509.42 L159.92,511.74 L159.93,512.21 L159.93,513.1 L159.94,514.28 L159.95,516.05 L159.95,516.36 L159.96,518.04 L159.97,518.46 L159.98,519.17 L159.99,519.95 L159.99,519.68 L160,520.87 L160.39,520.39 L160.91,519.76 L161.53,521.12 L162.23,520.33 L162.96,520.23 L163.7,520.2 L164.48,519.01 L164.9,517.7 L165.32,517.04 L165.76,516.27 L166.21,515.93 L166.65,513.8 L167.1,513.18 L167.54,511.77 L167.97,510.64 L168.8,510.04 L169.57,508.71 L170.32,507.68 L171.04,507.14 L171.76,506.75 L172.47,505.02 L173.2,503.87 L173.94,502.35 L174.7,500.89 L175.45,499.84 L176.19,498.11 L176.91,496.75 L177.6,495.35 L178.23,495.09 L178.8,493.9 L179.36,493.15 L179.92,492.41 L180.52,490.08 L181.2,489.06 L181.97,489 L182.81,488.43 L183.7,486.28 L184.6,484.78 L185.47,484.37 L186.3,483.03 L187.07,482.38 L187.82,481.38 L188.54,481.89 L189.26,482.16 L189.97,482.31 L190.7,480.52 L191.43,480.57 L192.17,480.29 L192.9,478.82 L193.63,479.41 L194.37,479.66 L195.1,477.82 L195.82,478.02 L196.51,476.46 L197.21,475.36 L197.93,475.44 L198.69,474.76 L199.5,472.61 L200.4,471.74 L201.38,471.14 L202.4,470.15 L203.42,469.06 L204.4,468.54 L205.3,469 L206.1,467.67 L206.82,468.14 L207.5,468.17 L208.18,467.25 L208.9,467.35 L209.7,467.88 L210.62,467.7 L211.64,466.38 L212.69,467.42 L213.73,467.3 L214.68,467.38 L215.5,465.28 L216.13,464.17 L216.63,462.71 L217.04,463.22 L217.43,462.1 L217.86,460.98 L218.4,460.91 L219.1,461.96 L219.92,462.39 L220.78,461.47 L221.6,460.79 L222.3,462.16 L222.8,462.13" fill="none" stroke="#00BFC4" stroke-width="1.05" stroke-linejoin="round" stroke-linecap="round"/>
<line x1="96.6" y1="383.9" x2="96.6" y2="552.4" stroke="#1a1a1a" stroke-width="0.85" stroke-dasharray="0.9 1.9"/>
<line x1="160.3" y1="383.9" x2="160.3" y2="552.4" stroke="#1a1a1a" stroke-width="0.85" stroke-dasharray="0.9 1.9"/>
<text x="2.6" y="580" font-size="8" text-anchor="start" font-family='"Liberation Serif", serif' font-weight="bold" fill="#000" >g</text>
<text transform="translate(12.2,657.6) rotate(-90)" font-size="11.4" letter-spacing="0.35" text-anchor="middle" font-family='"Liberation Serif", serif' fill="#2a2a2a">Methylation Level</text>
<line x1="31.6" y1="573.5" x2="31.6" y2="744" stroke="#2a2a2a" stroke-width="1.07" />
<line x1="31.1" y1="743.5" x2="224.9" y2="743.5" stroke="#2a2a2a" stroke-width="1" />
<line x1="30" y1="581.6" x2="31.6" y2="581.6" stroke="#000" stroke-width="0.9" />
<text x="28.6" y="585.5" font-size="11.1" text-anchor="end" font-family='"Liberation Sans", sans-serif' font-weight="normal" fill="#000" >15</text>
<line x1="30" y1="612.3" x2="31.6" y2="612.3" stroke="#000" stroke-width="0.9" />
<text x="28.6" y="616.2" font-size="11.1" text-anchor="end" font-family='"Liberation Sans", sans-serif' font-weight="normal" fill="#000" >14</text>
<line x1="30" y1="643.3" x2="31.6" y2="643.3" stroke="#000" stroke-width="0.9" />
<text x="28.6" y="647.2" font-size="11.1" text-anchor="end" font-family='"Liberation Sans", sans-serif' font-weight="normal" fill="#000" >13</text>
<line x1="30" y1="674.5" x2="31.6" y2="674.5" stroke="#000" stroke-width="0.9" />
<text x="28.6" y="678.4" font-size="11.1" text-anchor="end" font-family='"Liberation Sans", sans-serif' font-weight="normal" fill="#000" >12</text>
<line x1="30" y1="704.7" x2="31.6" y2="704.7" stroke="#000" stroke-width="0.9" />
<text x="28.6" y="708.6" font-size="11.1" text-anchor="end" font-family='"Liberation Sans", sans-serif' font-weight="normal" fill="#000" >11</text>
<line x1="30" y1="735.7" x2="31.6" y2="735.7" stroke="#000" stroke-width="0.9" />
<text x="28.6" y="739.6" font-size="11.1" text-anchor="end" font-family='"Liberation Sans", sans-serif' font-weight="normal" fill="#000" >10</text>
<text x="33.3" y="754.5" font-size="11.1" text-anchor="middle" font-family='"Liberation Sans", sans-serif' font-weight="normal" fill="#000" >&#8722;5kb</text>
<text x="96.6" y="754.5" font-size="11.1" text-anchor="middle" font-family='"Liberation Sans", sans-serif' font-weight="normal" fill="#000" >TSS</text>
<text x="160.3" y="754.5" font-size="11.1" text-anchor="middle" font-family='"Liberation Sans", sans-serif' font-weight="normal" fill="#000" >TTS</text>
<text x="223.3" y="754.5" font-size="11.1" text-anchor="middle" font-family='"Liberation Sans", sans-serif' font-weight="normal" fill="#000" >5kb</text>
<text x="128" y="585.7" font-size="11" text-anchor="middle" font-family='"Liberation Sans", sans-serif' font-weight="normal" fill="#000" >TE</text>
<path d="M33.2,657.12 L33.99,656.69 L35.11,655.74 L36.43,656.65 L37.8,655.17 L39.1,655.47 L40.2,656.7 L41.03,655.9 L41.7,656.9 L42.29,658.01 L42.9,657.78 L43.64,658.8 L44.6,660.42 L45.78,661.09 L47.1,662.43 L48.55,662.3 L50.1,662.8 L50.91,662.78 L51.72,663.84 L52.56,665.57 L53.4,666 L54.3,666.84 L55.2,666.65 L56.18,667.52 L57.16,666.78 L58.18,667.01 L59.2,668.18 L60.22,669.21 L61.24,669.35 L62.22,669.03 L63.2,669.54 L64.1,670.13 L65,670.97 L65.81,673.18 L66.63,673.51 L67.13,675.46 L67.64,676.88 L68.14,676.22 L68.62,677.01 L69.1,678.1 L69.57,678.06 L70.04,679.34 L70.51,681.51 L70.97,681.36 L71.44,682.69 L71.9,682.76 L72.37,684.19 L73.08,686.3 L73.8,686.43 L74.52,686.27 L75.23,686.71 L76.63,688.63 L78.02,688.87 L78.74,689.19 L79.46,690.52 L80.22,692.68 L80.97,693.13 L81.51,693.69 L82.06,694.89 L82.6,694.71 L83.06,696.14 L83.52,696.44 L83.98,697.97 L84.44,699.98 L84.84,699.52 L85.25,700.79 L85.66,702.01 L86.06,702.09 L86.47,702.82 L86.82,705.15 L87.17,706.83 L87.53,706.2 L87.88,707.52 L88.23,709.17 L88.58,708.89 L88.93,709.93 L89.27,709.64 L89.62,710.56 L89.96,712.13 L90.31,713.19 L90.65,714.55 L91.03,714.23 L91.42,715.03 L91.8,717.01 L92.18,717.9 L92.56,718.49 L92.97,719.08 L93.38,721.07 L93.79,721.65 L94.2,721.13 L94.84,723.26 L95.48,723.91 L95.98,724.68 L96.49,724.98 L97.33,726.28 L98.14,726.82 L99.02,726.67 L100.1,727.88 L101.39,727.32 L102.79,728.2 L104.27,726.66 L105.79,727.14 L107.31,727.22 L108.8,726.48 L110.28,726.48 L111.78,725.35 L113.28,725.7 L114.77,725.12 L116.21,724.31 L117.6,725.42 L118.83,724.74 L119.9,724.27 L120.94,725.07 L122.05,724.43 L123.37,724.76 L125,723.91 L126.04,724.95 L127.08,724.26 L128.32,723.48 L129.55,725.12 L130.88,724.32 L132.21,725.64 L133.55,726.52 L134.9,726.23 L136.16,724.83 L137.42,724.24 L138.51,724.32 L139.6,724.83 L140.49,725.72 L141.38,727.09 L142.89,726.93 L144.23,726.66 L145.53,727.63 L146.88,727.29 L148.4,726.88 L149.31,727.5 L150.22,728.08 L151.25,726.8 L152.28,726.81 L153.34,727.15 L154.4,727.3 L155.4,726.35 L156.4,726.76 L157.24,725.28 L158.09,725.51 L159.3,725.49 L159.66,725.13 L160.03,723.72 L160.39,721.69 L160.76,720.09 L161.12,719.89 L161.49,718.62 L161.85,718.55 L162.21,716.93 L162.58,717.2 L162.94,715.74 L163.31,714.11 L163.67,713.19 L164.04,712.92 L164.4,712.63 L164.8,711.47 L165.19,709.88 L165.56,709.26 L165.93,709.49 L166.29,708.25 L166.62,708.13 L166.94,705.65 L167.27,706.01 L167.59,705.57 L167.94,704.13 L168.3,702.87 L168.65,701.79 L169,701.6 L169.35,699.26 L169.7,698.85 L170.05,698.01 L170.4,696.61 L170.83,696.28 L171.27,695.64 L171.7,693.49 L172.3,692.98 L172.9,691.63 L173.49,690.6 L174.08,689.9 L174.67,687.87 L175.26,687.55 L175.86,686.5 L176.46,686.64 L177.08,684.88 L177.7,684.82 L178.35,684.09 L179,683.03 L179.71,682.43 L180.42,679.76 L180.93,679.34 L181.44,678.8 L181.95,678.28 L182.48,677.04 L183,675.25 L183.53,674.17 L184.04,674.17 L184.56,672.88 L185.07,671.57 L185.79,670.87 L186.52,670.26 L187.16,669.78 L187.8,667.99 L188.89,667.82 L189.84,666.5 L190.69,666.53 L191.49,664.6 L192.28,665.28 L193.1,664.39 L193.89,664.21 L194.61,663.64 L195.32,662.48 L196.08,659.75 L196.95,658.28 L198,656.75 L199.25,656.65 L200.65,654.83 L201.41,653.94 L202.17,652.98 L202.96,652.23 L203.76,653.39 L204.57,653.87 L205.38,652.57 L206.19,652.43 L207,651.52 L207.84,650.87 L208.68,649.92 L209.57,649.69 L210.46,648.43 L211.36,647.5 L212.27,647.3 L213.16,646.26 L214.04,645.97 L214.88,646.74 L215.71,644.92 L217.2,643.64 L218.55,644.42 L219.82,643.24 L220.99,643.06 L222.01,644.35 L222.86,644.54 L223.5,643.77" fill="none" stroke="#F8766D" stroke-width="1.05" stroke-linejoin="round" stroke-linecap="round"/>
<path d="M33.2,652.3 L33.85,652.54 L34.78,653.56 L35.86,653.17 L36.98,653.09 L38,653.2 L38.8,652.29 L39.35,652.3 L39.73,652.27 L40.02,652.35 L40.29,650.7 L40.59,650.24 L41,649.71 L41.48,651.42 L41.96,652.61 L42.48,652.36 L43.07,654.76 L43.77,656.43 L44.6,656.89 L45.64,657.17 L46.87,656.42 L48.2,655.8 L49.54,656.73 L50.81,656.41 L51.9,656.8 L52.75,657.45 L53.42,657.67 L54.01,659.09 L54.62,660.19 L55.35,662.08 L56.3,662.84 L57.53,664.02 L58.26,664.37 L58.99,665.16 L59.77,665.42 L60.56,665.42 L61.35,667.27 L62.15,668.55 L62.91,669.16 L63.66,669.47 L65,669.53 L66.16,669.8 L67.23,670.5 L68.22,670.82 L69.15,672.95 L70.04,673.74 L70.9,675.6 L71.67,676.02 L72.32,677.91 L72.92,679.11 L73.57,678.36 L74.34,678.92 L75.3,681.34 L76.53,682.3 L77.26,683.9 L77.99,683.78 L78.77,683.33 L79.56,684.6 L80.35,685.99 L81.15,685.96 L81.91,685.95 L82.66,686.85 L83.33,689.2 L84,690.45 L84.57,690.25 L85.15,690.89 L85.66,691.49 L86.18,692.24 L86.65,694.86 L87.13,695.49 L87.44,696.85 L87.74,697.74 L88.04,698.05 L88.35,699.81 L88.65,699.86 L88.95,701.41 L89.27,701.51 L89.58,702.63 L89.9,703.2 L90.23,704.11 L90.56,706.6 L90.89,708.03 L91.22,708.27 L91.56,710.16 L91.89,710.2 L92.23,711.14 L92.56,713.16 L92.89,714.31 L93.22,714.19 L93.55,716.56 L93.87,716.63 L94.19,717.12 L94.5,718.94 L94.82,719.38 L95.26,720.13 L95.7,720.54 L96.5,721.72 L97.22,723.64 L97.9,724.02 L98.58,725.05 L99.3,725.14 L100.1,725.45 L100.97,726.75 L101.87,726.28 L102.82,726.06 L103.8,726.4 L104.83,724.9 L105.9,723.86 L106.98,724.75 L108.06,724.77 L109.18,723.26 L110.38,722.07 L111.71,722.47 L113.2,723.05 L114.87,721.72 L115.79,722.7 L116.7,723.07 L117.67,722.68 L118.64,722.05 L119.67,721.03 L120.69,720.32 L121.76,721.99 L122.82,721.32 L123.91,721.99 L125,721.38 L126.17,722.31 L127.34,722.33 L128.61,721.69 L129.87,721.1 L131.18,722 L132.49,721.09 L133.77,720.97 L135.06,721.67 L136.26,722.74 L137.47,722.84 L138.53,722.21 L139.6,723.31 L141.38,722.58 L142.89,721.97 L144.23,722.4 L145.53,723.18 L146.88,722.85 L148.4,722.93 L149.31,723.3 L150.22,723.96 L151.25,723.28 L152.28,723.39 L153.34,724.55 L154.4,725.33 L155.4,724.99 L156.4,724.83 L158.09,724.36 L159.3,723.11 L159.31,721.35 L159.32,719.94 L159.33,720.72 L159.34,720.27 L159.35,720.2 L159.36,717.67 L159.37,717.23 L159.38,716.24 L159.39,715.83 L159.4,714.29 L159.4,714.53 L159.41,712.22 L159.42,711.58 L159.43,711.23 L159.44,710.99 L159.45,710.09 L159.46,709.12 L159.47,708.37 L159.48,707.81 L159.49,705.86 L159.5,705.11 L159.51,704.76 L159.52,704.1 L159.53,702.32 L159.54,701.76 L159.55,701.2 L159.56,699.84 L159.57,698.8 L159.58,697.29 L159.59,696.49 L159.6,695.69 L159.6,693.69 L159.61,693.4 L159.62,693.62 L159.63,693.07 L159.64,692.03 L159.65,690.3 L159.66,689.71 L159.67,688.63 L159.68,687.32 L159.69,687.06 L159.7,684.85 L159.71,686.51 L159.72,686.24 L159.72,687.76 L159.73,688.74 L159.74,689.13 L159.75,690.79 L159.76,691.66 L159.76,692.81 L159.77,694.52 L159.78,694.41 L159.79,694.21 L159.8,695.15 L159.81,696.9 L159.81,697.23 L159.82,697.74 L159.83,700.05 L159.84,701.19 L159.85,701.74 L159.85,703.45 L159.86,703.55 L159.87,704.75 L159.88,704.8 L159.89,705.74 L159.89,707.49 L159.9,709.1 L159.91,710.32 L159.92,710.3 L159.93,711.14 L159.94,711.42 L159.94,711.59 L159.95,712.88 L159.96,714.75 L159.97,716.21 L159.98,717.11 L159.98,718.55 L159.99,718.26 L160,718.27 L160.41,717.52 L160.81,716.32 L161.19,715.19 L161.57,714.64 L161.94,714.44 L162.39,713.52 L162.84,712.18 L163.28,712.16 L163.75,711.97 L164.23,710.23 L164.7,707.98 L165.16,706.2 L165.62,706.62 L166.08,704.56 L166.49,704.55 L166.89,703.83 L167.3,702.44 L167.66,702.42 L168.01,700.33 L168.37,699.07 L168.87,698.31 L169.37,696.4 L169.86,696.59 L170.34,694.86 L170.82,693.2 L171.29,691.56 L171.77,691.47 L172.24,690.53 L172.72,689.98 L173.2,689.26 L173.67,688.85 L174.14,688.54 L174.58,687.47 L175.02,685.46 L175.91,683.89 L176.83,681.67 L177.34,680.07 L177.85,679.82 L178.42,679.69 L179,677.99 L179.45,677 L179.89,676.25 L180.34,676.24 L180.84,675.37 L181.33,674.67 L181.83,674.18 L182.36,672.64 L182.89,672.23 L183.42,671.81 L183.95,669.34 L184.49,669.4 L185.02,668.54 L185.54,666.39 L186.06,665.52 L186.57,665.02 L187.29,664.72 L188,662.87 L188.66,661.97 L189.31,661.74 L189.94,661.16 L190.56,660.8 L191.16,659.31 L191.76,658.59 L192.91,656.41 L194.03,655.94 L195.1,655.5 L196.04,654.62 L196.81,654.18 L197.55,652.71 L198.36,653.24 L199.37,653.43 L200.7,653.08 L201.57,651.82 L202.44,651.47 L203.47,649.93 L204.5,650.11 L205.64,649.78 L206.77,648.2 L207.93,646.45 L209.1,645.99 L210.22,645.72 L211.35,645.77 L212.38,644.98 L213.4,643.3 L214.38,643.9 L215.35,642.37 L216.34,642.95 L217.33,641.67 L218.29,641.15 L219.24,641.66 L220.11,640.37 L220.98,639.5 L222.43,639.4 L223.5,639.67" fill="none" stroke="#00BFC4" stroke-width="1.05" stroke-linejoin="round" stroke-linecap="round"/>
<line x1="96.6" y1="573.9" x2="96.6" y2="742.4" stroke="#1a1a1a" stroke-width="0.85" stroke-dasharray="0.9 1.9"/>
<line x1="160.3" y1="573.9" x2="160.3" y2="742.4" stroke="#1a1a1a" stroke-width="0.85" stroke-dasharray="0.9 1.9"/>
<text x="231" y="10" font-size="8" text-anchor="start" font-family='"Liberation Serif", serif' font-weight="bold" fill="#000" >b</text>
<text transform="translate(240.2,87.6) rotate(-90)" font-size="11.4" letter-spacing="0.35" text-anchor="middle" font-family='"Liberation Serif", serif' fill="#2a2a2a">Methylation Level</text>
<line x1="266.5" y1="3.5" x2="266.5" y2="173.5" stroke="#2a2a2a" stroke-width="1.07" />
<line x1="266" y1="173" x2="681.5" y2="173" stroke="#2a2a2a" stroke-width="1" />
<line x1="264.9" y1="165.5" x2="266.5" y2="165.5" stroke="#000" stroke-width="0.9" />
<text x="263.3" y="169.4" font-size="11.1" text-anchor="end" font-family='"Liberation Sans", sans-serif' font-weight="normal" fill="#000" >0</text>
<line x1="264.9" y1="126.97" x2="266.5" y2="126.97" stroke="#000" stroke-width="0.9" />
<text x="263.3" y="130.88" font-size="11.1" text-anchor="end" font-family='"Liberation Sans", sans-serif' font-weight="normal" fill="#000" >25</text>
<line x1="264.9" y1="88.45" x2="266.5" y2="88.45" stroke="#000" stroke-width="0.9" />
<text x="263.3" y="92.35" font-size="11.1" text-anchor="end" font-family='"Liberation Sans", sans-serif' font-weight="normal" fill="#000" >50</text>
<line x1="264.9" y1="49.93" x2="266.5" y2="49.93" stroke="#000" stroke-width="0.9" />
<text x="263.3" y="53.83" font-size="11.1" text-anchor="end" font-family='"Liberation Sans", sans-serif' font-weight="normal" fill="#000" >75</text>
<line x1="264.9" y1="11.4" x2="266.5" y2="11.4" stroke="#000" stroke-width="0.9" />
<text x="263.3" y="15.3" font-size="11.1" text-anchor="end" font-family='"Liberation Sans", sans-serif' font-weight="normal" fill="#000" >100</text>
<line x1="299.42" y1="11" x2="299.42" y2="94.4" stroke="#333" stroke-width="0.95" />
<line x1="299.42" y1="159.5" x2="299.42" y2="165" stroke="#333" stroke-width="0.95" />
<rect x="285.95" y="94.4" width="26.94" height="65.1" fill="#F8766D" stroke="#333" stroke-width="0.95"/>
<line x1="285.95" y1="157.4" x2="312.89" y2="157.4" stroke="#333" stroke-width="1.6" />
<line x1="329.35" y1="11" x2="329.35" y2="94.4" stroke="#333" stroke-width="0.95" />
<line x1="329.35" y1="159.5" x2="329.35" y2="165" stroke="#333" stroke-width="0.95" />
<rect x="315.88" y="94.4" width="26.94" height="65.1" fill="#00BFC4" stroke="#333" stroke-width="0.95"/>
<line x1="315.88" y1="157.4" x2="342.82" y2="157.4" stroke="#333" stroke-width="1.6" />
<text x="298.82" y="126.1" font-size="10.3" text-anchor="middle" font-family='"Liberation Sans", sans-serif' font-weight="normal" fill="#000" >15329</text>
<text x="329.95" y="126.1" font-size="10.3" text-anchor="middle" font-family='"Liberation Sans", sans-serif' font-weight="normal" fill="#000" >15326</text>
<text x="314.38" y="11" font-size="10.8" text-anchor="middle" font-family='"Liberation Sans", sans-serif' font-weight="normal" fill="#000" >ns</text>
<text x="314.38" y="184.5" font-size="11.1" text-anchor="middle" font-family='"Liberation Sans", sans-serif' font-weight="normal" fill="#000" >promoter</text>
<line x1="379.23" y1="11" x2="379.23" y2="97" stroke="#333" stroke-width="0.95" />
<line x1="379.23" y1="159.4" x2="379.23" y2="165" stroke="#333" stroke-width="0.95" />
<rect x="365.76" y="97" width="26.94" height="62.4" fill="#F8766D" stroke="#333" stroke-width="0.95"/>
<line x1="365.76" y1="150.9" x2="392.7" y2="150.9" stroke="#333" stroke-width="1.6" />
<line x1="409.16" y1="18.4" x2="409.16" y2="97" stroke="#333" stroke-width="0.95" />
<line x1="409.16" y1="159.4" x2="409.16" y2="165" stroke="#333" stroke-width="0.95" />
<rect x="395.69" y="97" width="26.94" height="62.4" fill="#00BFC4" stroke="#333" stroke-width="0.95"/>
<line x1="395.69" y1="150.9" x2="422.62" y2="150.9" stroke="#333" stroke-width="1.6" />
<text x="378.63" y="124.3" font-size="10.3" text-anchor="middle" font-family='"Liberation Sans", sans-serif' font-weight="normal" fill="#000" >9112</text>
<text x="409.75" y="124.3" font-size="10.3" text-anchor="middle" font-family='"Liberation Sans", sans-serif' font-weight="normal" fill="#000" >9111</text>
<text x="394.19" y="11" font-size="10.8" text-anchor="middle" font-family='"Liberation Sans", sans-serif' font-weight="normal" fill="#000" >ns</text>
<text x="394.19" y="184.5" font-size="11.1" text-anchor="middle" font-family='"Liberation Sans", sans-serif' font-weight="normal" fill="#000" >5'UTR</text>
<line x1="459.04" y1="11" x2="459.04" y2="49.9" stroke="#333" stroke-width="0.95" />
<line x1="459.04" y1="158.3" x2="459.04" y2="165" stroke="#333" stroke-width="0.95" />
<rect x="445.57" y="49.9" width="26.94" height="108.4" fill="#F8766D" stroke="#333" stroke-width="0.95"/>
<line x1="445.57" y1="81.8" x2="472.5" y2="81.8" stroke="#333" stroke-width="1.6" />
<line x1="488.96" y1="11" x2="488.96" y2="49.9" stroke="#333" stroke-width="0.95" />
<line x1="488.96" y1="158.3" x2="488.96" y2="165" stroke="#333" stroke-width="0.95" />
<rect x="475.5" y="49.9" width="26.94" height="108.4" fill="#00BFC4" stroke="#333" stroke-width="0.95"/>
<line x1="475.5" y1="81.8" x2="502.43" y2="81.8" stroke="#333" stroke-width="1.6" />
<text x="458.44" y="96.3" font-size="10.3" text-anchor="middle" font-family='"Liberation Sans", sans-serif' font-weight="normal" fill="#000" >95355</text>
<text x="489.56" y="96.3" font-size="10.3" text-anchor="middle" font-family='"Liberation Sans", sans-serif' font-weight="normal" fill="#000" >95363</text>
<text x="474" y="11" font-size="10.8" text-anchor="middle" font-family='"Liberation Sans", sans-serif' font-weight="normal" fill="#000" >ns</text>
<text x="474" y="184.5" font-size="11.1" text-anchor="middle" font-family='"Liberation Sans", sans-serif' font-weight="normal" fill="#000" >exon</text>
<line x1="538.84" y1="17.2" x2="538.84" y2="55.7" stroke="#333" stroke-width="0.95" />
<line x1="538.84" y1="158.3" x2="538.84" y2="165" stroke="#333" stroke-width="0.95" />
<rect x="525.38" y="55.7" width="26.94" height="102.6" fill="#F8766D" stroke="#333" stroke-width="0.95"/>
<line x1="525.38" y1="73.9" x2="552.31" y2="73.9" stroke="#333" stroke-width="1.6" />
<line x1="568.77" y1="11.4" x2="568.77" y2="55.7" stroke="#333" stroke-width="0.95" />
<line x1="568.77" y1="158.3" x2="568.77" y2="165" stroke="#333" stroke-width="0.95" />
<rect x="555.3" y="55.7" width="26.94" height="102.6" fill="#00BFC4" stroke="#333" stroke-width="0.95"/>
<line x1="555.3" y1="73.9" x2="582.24" y2="73.9" stroke="#333" stroke-width="1.6" />
<text x="538.25" y="96.3" font-size="10.3" text-anchor="middle" font-family='"Liberation Sans", sans-serif' font-weight="normal" fill="#000" >8828</text>
<text x="569.37" y="96.3" font-size="10.3" text-anchor="middle" font-family='"Liberation Sans", sans-serif' font-weight="normal" fill="#000" >8822</text>
<text x="553.81" y="11" font-size="10.8" text-anchor="middle" font-family='"Liberation Sans", sans-serif' font-weight="normal" fill="#000" >ns</text>
<text x="553.81" y="184.5" font-size="11.1" text-anchor="middle" font-family='"Liberation Sans", sans-serif' font-weight="normal" fill="#000" >3'UTR</text>
<line x1="618.65" y1="11" x2="618.65" y2="49.4" stroke="#333" stroke-width="0.95" />
<line x1="618.65" y1="158.3" x2="618.65" y2="165" stroke="#333" stroke-width="0.95" />
<rect x="605.18" y="49.4" width="26.94" height="108.9" fill="#F8766D" stroke="#333" stroke-width="0.95"/>
<line x1="605.18" y1="73.2" x2="632.12" y2="73.2" stroke="#333" stroke-width="1.6" />
<line x1="648.58" y1="11" x2="648.58" y2="49.4" stroke="#333" stroke-width="0.95" />
<line x1="648.58" y1="158.3" x2="648.58" y2="165" stroke="#333" stroke-width="0.95" />
<rect x="635.11" y="49.4" width="26.94" height="108.9" fill="#00BFC4" stroke="#333" stroke-width="0.95"/>
<line x1="635.11" y1="73.2" x2="662.05" y2="73.2" stroke="#333" stroke-width="1.6" />
<text x="618.05" y="92.1" font-size="10.3" text-anchor="middle" font-family='"Liberation Sans", sans-serif' font-weight="normal" fill="#000" >79736</text>
<text x="649.18" y="92.1" font-size="10.3" text-anchor="middle" font-family='"Liberation Sans", sans-serif' font-weight="normal" fill="#000" >79730</text>
<text x="633.62" y="11" font-size="10.8" text-anchor="middle" font-family='"Liberation Sans", sans-serif' font-weight="normal" fill="#000" >ns</text>
<text x="633.62" y="184.5" font-size="11.1" text-anchor="middle" font-family='"Liberation Sans", sans-serif' font-weight="normal" fill="#000" >intron</text>
<text x="231" y="200" font-size="8" text-anchor="start" font-family='"Liberation Serif", serif' font-weight="bold" fill="#000" >d</text>
<text transform="translate(240.2,277.6) rotate(-90)" font-size="11.4" letter-spacing="0.35" text-anchor="middle" font-family='"Liberation Serif", serif' fill="#2a2a2a">Methylation Level</text>
<line x1="266.5" y1="193.5" x2="266.5" y2="364" stroke="#2a2a2a" stroke-width="1.07" />
<line x1="266" y1="363.5" x2="681.5" y2="363.5" stroke="#2a2a2a" stroke-width="1" />
<line x1="264.9" y1="355.5" x2="266.5" y2="355.5" stroke="#000" stroke-width="0.9" />
<text x="263.3" y="359.4" font-size="11.1" text-anchor="end" font-family='"Liberation Sans", sans-serif' font-weight="normal" fill="#000" >0</text>
<line x1="264.9" y1="316.98" x2="266.5" y2="316.98" stroke="#000" stroke-width="0.9" />
<text x="263.3" y="320.88" font-size="11.1" text-anchor="end" font-family='"Liberation Sans", sans-serif' font-weight="normal" fill="#000" >25</text>
<line x1="264.9" y1="278.45" x2="266.5" y2="278.45" stroke="#000" stroke-width="0.9" />
<text x="263.3" y="282.35" font-size="11.1" text-anchor="end" font-family='"Liberation Sans", sans-serif' font-weight="normal" fill="#000" >50</text>
<line x1="264.9" y1="239.93" x2="266.5" y2="239.93" stroke="#000" stroke-width="0.9" />
<text x="263.3" y="243.83" font-size="11.1" text-anchor="end" font-family='"Liberation Sans", sans-serif' font-weight="normal" fill="#000" >75</text>
<line x1="264.9" y1="201.4" x2="266.5" y2="201.4" stroke="#000" stroke-width="0.9" />
<text x="263.3" y="205.3" font-size="11.1" text-anchor="end" font-family='"Liberation Sans", sans-serif' font-weight="normal" fill="#000" >100</text>
<line x1="299.42" y1="215.1" x2="299.42" y2="296.3" stroke="#333" stroke-width="0.95" />
<line x1="299.42" y1="350.6" x2="299.42" y2="355.2" stroke="#333" stroke-width="0.95" />
<rect x="285.95" y="296.3" width="26.94" height="54.3" fill="#F8766D" stroke="#333" stroke-width="0.95"/>
<line x1="285.95" y1="347.6" x2="312.89" y2="347.6" stroke="#333" stroke-width="1.6" />
<line x1="329.35" y1="217.9" x2="329.35" y2="297.1" stroke="#333" stroke-width="0.95" />
<line x1="329.35" y1="350.6" x2="329.35" y2="355.2" stroke="#333" stroke-width="0.95" />
<rect x="315.88" y="297.1" width="26.94" height="53.5" fill="#00BFC4" stroke="#333" stroke-width="0.95"/>
<line x1="315.88" y1="347.1" x2="342.82" y2="347.1" stroke="#333" stroke-width="1.6" />
<text x="298.82" y="319.6" font-size="10.3" text-anchor="middle" font-family='"Liberation Sans", sans-serif' font-weight="normal" fill="#000" >17400</text>
<text x="329.95" y="319.6" font-size="10.3" text-anchor="middle" font-family='"Liberation Sans", sans-serif' font-weight="normal" fill="#000" >17426</text>
<path d="M307.78,194.9 L307.78,193.7 M307.78,194.9 L306.64,194.53 M307.78,194.9 L307.08,195.87 M307.78,194.9 L308.49,195.87 M307.78,194.9 L308.93,194.53 " stroke="#111" stroke-width="0.85" stroke-linecap="round" fill="none"/>
<circle cx="307.78" cy="194.9" r="0.7" fill="#111"/>
<path d="M312.18,194.9 L312.18,193.7 M312.18,194.9 L311.04,194.53 M312.18,194.9 L311.48,195.87 M312.18,194.9 L312.89,195.87 M312.18,194.9 L313.33,194.53 " stroke="#111" stroke-width="0.85" stroke-linecap="round" fill="none"/>
<circle cx="312.18" cy="194.9" r="0.7" fill="#111"/>
<path d="M316.58,194.9 L316.58,193.7 M316.58,194.9 L315.44,194.53 M316.58,194.9 L315.88,195.87 M316.58,194.9 L317.29,195.87 M316.58,194.9 L317.73,194.53 " stroke="#111" stroke-width="0.85" stroke-linecap="round" fill="none"/>
<circle cx="316.58" cy="194.9" r="0.7" fill="#111"/>
<path d="M320.98,194.9 L320.98,193.7 M320.98,194.9 L319.84,194.53 M320.98,194.9 L320.28,195.87 M320.98,194.9 L321.69,195.87 M320.98,194.9 L322.13,194.53 " stroke="#111" stroke-width="0.85" stroke-linecap="round" fill="none"/>
<circle cx="320.98" cy="194.9" r="0.7" fill="#111"/>
<text x="314.38" y="374.5" font-size="11.1" text-anchor="middle" font-family='"Liberation Sans", sans-serif' font-weight="normal" fill="#000" >promoter</text>
<line x1="379.23" y1="225" x2="379.23" y2="299.6" stroke="#333" stroke-width="0.95" />
<line x1="379.23" y1="350" x2="379.23" y2="355.2" stroke="#333" stroke-width="0.95" />
<rect x="365.76" y="299.6" width="26.94" height="50.4" fill="#F8766D" stroke="#333" stroke-width="0.95"/>
<line x1="365.76" y1="345.7" x2="392.7" y2="345.7" stroke="#333" stroke-width="1.6" />
<line x1="409.16" y1="225" x2="409.16" y2="300.1" stroke="#333" stroke-width="0.95" />
<line x1="409.16" y1="349.5" x2="409.16" y2="355.2" stroke="#333" stroke-width="0.95" />
<rect x="395.69" y="300.1" width="26.94" height="49.4" fill="#00BFC4" stroke="#333" stroke-width="0.95"/>
<line x1="395.69" y1="345.3" x2="422.62" y2="345.3" stroke="#333" stroke-width="1.6" />
<text x="378.63" y="319.6" font-size="10.3" text-anchor="middle" font-family='"Liberation Sans", sans-serif' font-weight="normal" fill="#000" >4317</text>
<text x="409.75" y="319.6" font-size="10.3" text-anchor="middle" font-family='"Liberation Sans", sans-serif' font-weight="normal" fill="#000" >4321</text>
<path d="M391.99,194.9 L391.99,193.7 M391.99,194.9 L390.85,194.53 M391.99,194.9 L391.29,195.87 M391.99,194.9 L392.7,195.87 M391.99,194.9 L393.13,194.53 " stroke="#111" stroke-width="0.85" stroke-linecap="round" fill="none"/>
<circle cx="391.99" cy="194.9" r="0.7" fill="#111"/>
<path d="M396.39,194.9 L396.39,193.7 M396.39,194.9 L395.25,194.53 M396.39,194.9 L395.69,195.87 M396.39,194.9 L397.1,195.87 M396.39,194.9 L397.53,194.53 " stroke="#111" stroke-width="0.85" stroke-linecap="round" fill="none"/>
<circle cx="396.39" cy="194.9" r="0.7" fill="#111"/>
<text x="394.19" y="374.5" font-size="11.1" text-anchor="middle" font-family='"Liberation Sans", sans-serif' font-weight="normal" fill="#000" >5'UTR</text>
<line x1="459.04" y1="201.4" x2="459.04" y2="242" stroke="#333" stroke-width="0.95" />
<line x1="459.04" y1="348.3" x2="459.04" y2="355.2" stroke="#333" stroke-width="0.95" />
<rect x="445.57" y="242" width="26.94" height="106.3" fill="#F8766D" stroke="#333" stroke-width="0.95"/>
<line x1="445.57" y1="269.2" x2="472.5" y2="269.2" stroke="#333" stroke-width="1.6" />
<line x1="488.96" y1="201.4" x2="488.96" y2="242.2" stroke="#333" stroke-width="0.95" />
<line x1="488.96" y1="348.3" x2="488.96" y2="355.2" stroke="#333" stroke-width="0.95" />
<rect x="475.5" y="242.2" width="26.94" height="106.1" fill="#00BFC4" stroke="#333" stroke-width="0.95"/>
<line x1="475.5" y1="269.3" x2="502.43" y2="269.3" stroke="#333" stroke-width="1.6" />
<text x="458.44" y="283.9" font-size="10.3" text-anchor="middle" font-family='"Liberation Sans", sans-serif' font-weight="normal" fill="#000" >90940</text>
<text x="489.56" y="283.9" font-size="10.3" text-anchor="middle" font-family='"Liberation Sans", sans-serif' font-weight="normal" fill="#000" >90930</text>
<path d="M469.6,194.9 L469.6,193.7 M469.6,194.9 L468.46,194.53 M469.6,194.9 L468.89,195.87 M469.6,194.9 L470.31,195.87 M469.6,194.9 L470.74,194.53 " stroke="#111" stroke-width="0.85" stroke-linecap="round" fill="none"/>
<circle cx="469.6" cy="194.9" r="0.7" fill="#111"/>
<path d="M474,194.9 L474,193.7 M474,194.9 L472.86,194.53 M474,194.9 L473.29,195.87 M474,194.9 L474.71,195.87 M474,194.9 L475.14,194.53 " stroke="#111" stroke-width="0.85" stroke-linecap="round" fill="none"/>
<circle cx="474" cy="194.9" r="0.7" fill="#111"/>
<path d="M478.4,194.9 L478.4,193.7 M478.4,194.9 L477.26,194.53 M478.4,194.9 L477.69,195.87 M478.4,194.9 L479.11,195.87 M478.4,194.9 L479.54,194.53 " stroke="#111" stroke-width="0.85" stroke-linecap="round" fill="none"/>
<circle cx="478.4" cy="194.9" r="0.7" fill="#111"/>
<text x="474" y="374.5" font-size="11.1" text-anchor="middle" font-family='"Liberation Sans", sans-serif' font-weight="normal" fill="#000" >exon</text>
<line x1="538.84" y1="201.4" x2="538.84" y2="263.2" stroke="#333" stroke-width="0.95" />
<line x1="538.84" y1="349.6" x2="538.84" y2="355.2" stroke="#333" stroke-width="0.95" />
<rect x="525.38" y="263.2" width="26.94" height="86.4" fill="#F8766D" stroke="#333" stroke-width="0.95"/>
<line x1="525.38" y1="343.3" x2="552.31" y2="343.3" stroke="#333" stroke-width="1.6" />
<line x1="568.77" y1="201.4" x2="568.77" y2="263.2" stroke="#333" stroke-width="0.95" />
<line x1="568.77" y1="349.6" x2="568.77" y2="355.2" stroke="#333" stroke-width="0.95" />
<rect x="555.3" y="263.2" width="26.94" height="86.4" fill="#00BFC4" stroke="#333" stroke-width="0.95"/>
<line x1="555.3" y1="343.1" x2="582.24" y2="343.1" stroke="#333" stroke-width="1.6" />
<text x="538.25" y="308.1" font-size="10.3" text-anchor="middle" font-family='"Liberation Sans", sans-serif' font-weight="normal" fill="#000" >4325</text>
<text x="569.37" y="308.1" font-size="10.3" text-anchor="middle" font-family='"Liberation Sans", sans-serif' font-weight="normal" fill="#000" >4316</text>
<path d="M553.81,194.9 L553.81,193.7 M553.81,194.9 L552.67,194.53 M553.81,194.9 L553.1,195.87 M553.81,194.9 L554.51,195.87 M553.81,194.9 L554.95,194.53 " stroke="#111" stroke-width="0.85" stroke-linecap="round" fill="none"/>
<circle cx="553.81" cy="194.9" r="0.7" fill="#111"/>
<text x="553.81" y="374.5" font-size="11.1" text-anchor="middle" font-family='"Liberation Sans", sans-serif' font-weight="normal" fill="#000" >3'UTR</text>
<line x1="618.65" y1="201.4" x2="618.65" y2="241.7" stroke="#333" stroke-width="0.95" />
<line x1="618.65" y1="347.5" x2="618.65" y2="355.2" stroke="#333" stroke-width="0.95" />
<rect x="605.18" y="241.7" width="26.94" height="105.8" fill="#F8766D" stroke="#333" stroke-width="0.95"/>
<line x1="605.18" y1="264.1" x2="632.12" y2="264.1" stroke="#333" stroke-width="1.6" />
<line x1="648.58" y1="201.4" x2="648.58" y2="241.7" stroke="#333" stroke-width="0.95" />
<line x1="648.58" y1="347.5" x2="648.58" y2="355.2" stroke="#333" stroke-width="0.95" />
<rect x="635.11" y="241.7" width="26.94" height="105.8" fill="#00BFC4" stroke="#333" stroke-width="0.95"/>
<line x1="635.11" y1="264.1" x2="662.05" y2="264.1" stroke="#333" stroke-width="1.6" />
<text x="618.05" y="279.5" font-size="10.3" text-anchor="middle" font-family='"Liberation Sans", sans-serif' font-weight="normal" fill="#000" >75316</text>
<text x="649.18" y="279.5" font-size="10.3" text-anchor="middle" font-family='"Liberation Sans", sans-serif' font-weight="normal" fill="#000" >75261</text>
<path d="M633.62,194.9 L633.62,193.7 M633.62,194.9 L632.47,194.53 M633.62,194.9 L632.91,195.87 M633.62,194.9 L634.32,195.87 M633.62,194.9 L634.76,194.53 " stroke="#111" stroke-width="0.85" stroke-linecap="round" fill="none"/>
<circle cx="633.62" cy="194.9" r="0.7" fill="#111"/>
<text x="633.62" y="374.5" font-size="11.1" text-anchor="middle" font-family='"Liberation Sans", sans-serif' font-weight="normal" fill="#000" >intron</text>
<text x="231" y="390" font-size="8" text-anchor="start" font-family='"Liberation Serif", serif' font-weight="bold" fill="#000" >f</text>
<text transform="translate(240.2,467.6) rotate(-90)" font-size="11.4" letter-spacing="0.35" text-anchor="middle" font-family='"Liberation Serif", serif' fill="#2a2a2a">Methylation Level</text>
<line x1="266.5" y1="383.5" x2="266.5" y2="553" stroke="#2a2a2a" stroke-width="1.07" />
<line x1="266" y1="552.5" x2="681.5" y2="552.5" stroke="#2a2a2a" stroke-width="1" />
<line x1="264.9" y1="545.5" x2="266.5" y2="545.5" stroke="#000" stroke-width="0.9" />
<text x="263.3" y="549.4" font-size="11.1" text-anchor="end" font-family='"Liberation Sans", sans-serif' font-weight="normal" fill="#000" >0</text>
<line x1="264.9" y1="506.98" x2="266.5" y2="506.98" stroke="#000" stroke-width="0.9" />
<text x="263.3" y="510.88" font-size="11.1" text-anchor="end" font-family='"Liberation Sans", sans-serif' font-weight="normal" fill="#000" >25</text>
<line x1="264.9" y1="468.45" x2="266.5" y2="468.45" stroke="#000" stroke-width="0.9" />
<text x="263.3" y="472.35" font-size="11.1" text-anchor="end" font-family='"Liberation Sans", sans-serif' font-weight="normal" fill="#000" >50</text>
<line x1="264.9" y1="429.93" x2="266.5" y2="429.93" stroke="#000" stroke-width="0.9" />
<text x="263.3" y="433.82" font-size="11.1" text-anchor="end" font-family='"Liberation Sans", sans-serif' font-weight="normal" fill="#000" >75</text>
<line x1="264.9" y1="391.4" x2="266.5" y2="391.4" stroke="#000" stroke-width="0.9" />
<text x="263.3" y="395.3" font-size="11.1" text-anchor="end" font-family='"Liberation Sans", sans-serif' font-weight="normal" fill="#000" >100</text>
<line x1="285.11" y1="535" x2="285.11" y2="538" stroke="#333" stroke-width="0.95" />
<line x1="285.11" y1="539.8" x2="285.11" y2="542.6" stroke="#333" stroke-width="0.95" />
<rect x="277.5" y="538" width="15.22" height="1.8" fill="#F8766D" stroke="#333" stroke-width="0.95"/>
<line x1="277.5" y1="538.8" x2="292.72" y2="538.8" stroke="#333" stroke-width="1.6" />
<line x1="302.02" y1="535" x2="302.02" y2="538" stroke="#333" stroke-width="0.95" />
<line x1="302.02" y1="539.8" x2="302.02" y2="542.6" stroke="#333" stroke-width="0.95" />
<rect x="294.41" y="538" width="15.22" height="1.8" fill="#00BFC4" stroke="#333" stroke-width="0.95"/>
<line x1="294.41" y1="538.8" x2="309.64" y2="538.8" stroke="#333" stroke-width="1.6" />
<text x="284.84" y="528.3" font-size="7" text-anchor="middle" font-family='"Liberation Sans", sans-serif' font-weight="normal" fill="#000" >1498</text>
<text x="302.89" y="528.3" font-size="7" text-anchor="middle" font-family='"Liberation Sans", sans-serif' font-weight="normal" fill="#000" >1495</text>
<text x="293.57" y="422.5" font-size="10.8" text-anchor="middle" font-family='"Liberation Sans", sans-serif' font-weight="normal" fill="#000" >ns</text>
<text x="293.57" y="560.1" font-size="5.6" text-anchor="middle" font-family='"Liberation Sans", sans-serif' font-weight="normal" fill="#000" >CACTA TIR</text>
<text x="293.57" y="566.2" font-size="5.6" text-anchor="middle" font-family='"Liberation Sans", sans-serif' font-weight="normal" fill="#000" >transposon</text>
<line x1="330.22" y1="431.8" x2="330.22" y2="475.6" stroke="#333" stroke-width="0.95" />
<line x1="330.22" y1="536" x2="330.22" y2="539.3" stroke="#333" stroke-width="0.95" />
<rect x="322.6" y="475.6" width="15.22" height="60.4" fill="#F8766D" stroke="#333" stroke-width="0.95"/>
<line x1="322.6" y1="512.8" x2="337.83" y2="512.8" stroke="#333" stroke-width="1.6" />
<line x1="347.13" y1="432.9" x2="347.13" y2="474.4" stroke="#333" stroke-width="0.95" />
<line x1="347.13" y1="536" x2="347.13" y2="539.3" stroke="#333" stroke-width="0.95" />
<rect x="339.52" y="474.4" width="15.22" height="61.6" fill="#00BFC4" stroke="#333" stroke-width="0.95"/>
<line x1="339.52" y1="514.7" x2="354.74" y2="514.7" stroke="#333" stroke-width="1.6" />
<text x="329.95" y="501" font-size="7" text-anchor="middle" font-family='"Liberation Sans", sans-serif' font-weight="normal" fill="#000" >46</text>
<text x="348" y="501" font-size="7" text-anchor="middle" font-family='"Liberation Sans", sans-serif' font-weight="normal" fill="#000" >46</text>
<text x="338.67" y="422.5" font-size="10.8" text-anchor="middle" font-family='"Liberation Sans", sans-serif' font-weight="normal" fill="#000" >ns</text>
<text x="338.67" y="560.1" font-size="5.6" text-anchor="middle" font-family='"Liberation Sans", sans-serif' font-weight="normal" fill="#000" >Copia LTR</text>
<text x="338.67" y="566.2" font-size="5.6" text-anchor="middle" font-family='"Liberation Sans", sans-serif' font-weight="normal" fill="#000" >retrotransposon</text>
<line x1="375.32" y1="516" x2="375.32" y2="527.7" stroke="#333" stroke-width="0.95" />
<line x1="375.32" y1="538.2" x2="375.32" y2="539.6" stroke="#333" stroke-width="0.95" />
<rect x="367.71" y="527.7" width="15.22" height="10.5" fill="#F8766D" stroke="#333" stroke-width="0.95"/>
<line x1="367.71" y1="535.5" x2="382.94" y2="535.5" stroke="#333" stroke-width="1.6" />
<line x1="392.24" y1="517.4" x2="392.24" y2="527.2" stroke="#333" stroke-width="0.95" />
<line x1="392.24" y1="538.2" x2="392.24" y2="539.6" stroke="#333" stroke-width="0.95" />
<rect x="384.63" y="527.2" width="15.22" height="11" fill="#00BFC4" stroke="#333" stroke-width="0.95"/>
<line x1="384.63" y1="536" x2="399.85" y2="536" stroke="#333" stroke-width="1.6" />
<text x="375.06" y="514.3" font-size="7" text-anchor="middle" font-family='"Liberation Sans", sans-serif' font-weight="normal" fill="#000" >94</text>
<text x="393.1" y="514.3" font-size="7" text-anchor="middle" font-family='"Liberation Sans", sans-serif' font-weight="normal" fill="#000" >94</text>
<text x="383.78" y="422.5" font-size="10.8" text-anchor="middle" font-family='"Liberation Sans", sans-serif' font-weight="normal" fill="#000" >ns</text>
<text x="383.78" y="560.1" font-size="5.6" text-anchor="middle" font-family='"Liberation Sans", sans-serif' font-weight="normal" fill="#000" >Gypsy LTR</text>
<text x="383.78" y="566.2" font-size="5.6" text-anchor="middle" font-family='"Liberation Sans", sans-serif' font-weight="normal" fill="#000" >retrotransposon</text>
<line x1="420.43" y1="533.8" x2="420.43" y2="537.4" stroke="#333" stroke-width="0.95" />
<line x1="420.43" y1="539.6" x2="420.43" y2="543.3" stroke="#333" stroke-width="0.95" />
<rect x="412.82" y="537.4" width="15.22" height="2.2" fill="#F8766D" stroke="#333" stroke-width="0.95"/>
<line x1="412.82" y1="538.8" x2="428.05" y2="538.8" stroke="#333" stroke-width="1.6" />
<line x1="437.35" y1="533.8" x2="437.35" y2="537.4" stroke="#333" stroke-width="0.95" />
<line x1="437.35" y1="539.6" x2="437.35" y2="543.3" stroke="#333" stroke-width="0.95" />
<rect x="429.74" y="537.4" width="15.22" height="2.2" fill="#00BFC4" stroke="#333" stroke-width="0.95"/>
<line x1="429.74" y1="538.8" x2="444.96" y2="538.8" stroke="#333" stroke-width="1.6" />
<text x="418.2" y="528" font-size="7" text-anchor="middle" font-family='"Liberation Sans", sans-serif' font-weight="normal" fill="#000" >10130</text>
<text x="439.3" y="528" font-size="7" text-anchor="middle" font-family='"Liberation Sans", sans-serif' font-weight="normal" fill="#000" >10118</text>
<path d="M428.89,416.4 L428.89,415.2 M428.89,416.4 L427.75,416.03 M428.89,416.4 L428.19,417.37 M428.89,416.4 L429.6,417.37 M428.89,416.4 L430.03,416.03 " stroke="#111" stroke-width="0.85" stroke-linecap="round" fill="none"/>
<circle cx="428.89" cy="416.4" r="0.7" fill="#111"/>
<text x="428.89" y="560.1" font-size="5.6" text-anchor="middle" font-family='"Liberation Sans", sans-serif' font-weight="normal" fill="#000" >hAT TIR</text>
<text x="428.89" y="566.2" font-size="5.6" text-anchor="middle" font-family='"Liberation Sans", sans-serif' font-weight="normal" fill="#000" >transposon</text>
<line x1="465.54" y1="528.7" x2="465.54" y2="534.5" stroke="#333" stroke-width="0.95" />
<line x1="465.54" y1="539.3" x2="465.54" y2="541.8" stroke="#333" stroke-width="0.95" />
<rect x="457.93" y="534.5" width="15.22" height="4.8" fill="#F8766D" stroke="#333" stroke-width="0.95"/>
<line x1="457.93" y1="538.6" x2="473.15" y2="538.6" stroke="#333" stroke-width="1.6" />
<line x1="482.46" y1="525.8" x2="482.46" y2="533.4" stroke="#333" stroke-width="0.95" />
<line x1="482.46" y1="539.3" x2="482.46" y2="544.7" stroke="#333" stroke-width="0.95" />
<rect x="474.85" y="533.4" width="15.22" height="5.9" fill="#00BFC4" stroke="#333" stroke-width="0.95"/>
<line x1="474.85" y1="538.6" x2="490.07" y2="538.6" stroke="#333" stroke-width="1.6" />
<text x="465.28" y="523.9" font-size="7" text-anchor="middle" font-family='"Liberation Sans", sans-serif' font-weight="normal" fill="#000" >495</text>
<text x="483.32" y="523.9" font-size="7" text-anchor="middle" font-family='"Liberation Sans", sans-serif' font-weight="normal" fill="#000" >495</text>
<text x="474" y="422.5" font-size="10.8" text-anchor="middle" font-family='"Liberation Sans", sans-serif' font-weight="normal" fill="#000" >ns</text>
<text x="474" y="559.9" font-size="5.6" text-anchor="middle" font-family='"Liberation Sans", sans-serif' font-weight="normal" fill="#000" >helitron</text>
<line x1="510.65" y1="531.9" x2="510.65" y2="535.5" stroke="#333" stroke-width="0.95" />
<line x1="510.65" y1="539.7" x2="510.65" y2="541" stroke="#333" stroke-width="0.95" />
<rect x="503.04" y="535.5" width="15.22" height="4.2" fill="#F8766D" stroke="#333" stroke-width="0.95"/>
<line x1="503.04" y1="538.9" x2="518.26" y2="538.9" stroke="#333" stroke-width="1.6" />
<line x1="527.57" y1="530.1" x2="527.57" y2="535.5" stroke="#333" stroke-width="0.95" />
<line x1="527.57" y1="539.7" x2="527.57" y2="541" stroke="#333" stroke-width="0.95" />
<rect x="519.95" y="535.5" width="15.22" height="4.2" fill="#00BFC4" stroke="#333" stroke-width="0.95"/>
<line x1="519.95" y1="538.9" x2="535.18" y2="538.9" stroke="#333" stroke-width="1.6" />
<text x="510.39" y="525.5" font-size="7" text-anchor="middle" font-family='"Liberation Sans", sans-serif' font-weight="normal" fill="#000" >191</text>
<text x="528.43" y="525.5" font-size="7" text-anchor="middle" font-family='"Liberation Sans", sans-serif' font-weight="normal" fill="#000" >191</text>
<text x="519.11" y="422.5" font-size="10.8" text-anchor="middle" font-family='"Liberation Sans", sans-serif' font-weight="normal" fill="#000" >ns</text>
<text x="519.11" y="560.1" font-size="5.6" text-anchor="middle" font-family='"Liberation Sans", sans-serif' font-weight="normal" fill="#000" >LTR</text>
<text x="519.11" y="566.2" font-size="5.6" text-anchor="middle" font-family='"Liberation Sans", sans-serif' font-weight="normal" fill="#000" >retrotransposon</text>
<line x1="555.76" y1="532.3" x2="555.76" y2="536.4" stroke="#333" stroke-width="0.95" />
<line x1="555.76" y1="539.6" x2="555.76" y2="543.7" stroke="#333" stroke-width="0.95" />
<rect x="548.15" y="536.4" width="15.22" height="3.2" fill="#F8766D" stroke="#333" stroke-width="0.95"/>
<line x1="548.15" y1="538.6" x2="563.37" y2="538.6" stroke="#333" stroke-width="1.6" />
<line x1="572.68" y1="533" x2="572.68" y2="536.7" stroke="#333" stroke-width="0.95" />
<line x1="572.68" y1="539.6" x2="572.68" y2="543.7" stroke="#333" stroke-width="0.95" />
<rect x="565.06" y="536.7" width="15.22" height="2.9" fill="#00BFC4" stroke="#333" stroke-width="0.95"/>
<line x1="565.06" y1="538.6" x2="580.29" y2="538.6" stroke="#333" stroke-width="1.6" />
<text x="555.5" y="520.6" font-size="7" text-anchor="middle" font-family='"Liberation Sans", sans-serif' font-weight="normal" fill="#000" >1412</text>
<text x="573.54" y="520.6" font-size="7" text-anchor="middle" font-family='"Liberation Sans", sans-serif' font-weight="normal" fill="#000" >1414</text>
<text x="564.22" y="422.5" font-size="10.8" text-anchor="middle" font-family='"Liberation Sans", sans-serif' font-weight="normal" fill="#000" >ns</text>
<text x="564.22" y="560.1" font-size="5.6" text-anchor="middle" font-family='"Liberation Sans", sans-serif' font-weight="normal" fill="#000" >Mutator TIR</text>
<text x="564.22" y="566.2" font-size="5.6" text-anchor="middle" font-family='"Liberation Sans", sans-serif' font-weight="normal" fill="#000" >transposon</text>
<line x1="600.87" y1="527.2" x2="600.87" y2="532.6" stroke="#333" stroke-width="0.95" />
<line x1="600.87" y1="539.6" x2="600.87" y2="543.7" stroke="#333" stroke-width="0.95" />
<rect x="593.26" y="532.6" width="15.22" height="7" fill="#F8766D" stroke="#333" stroke-width="0.95"/>
<line x1="593.26" y1="538.9" x2="608.48" y2="538.9" stroke="#333" stroke-width="1.6" />
<line x1="617.78" y1="521" x2="617.78" y2="531.6" stroke="#333" stroke-width="0.95" />
<line x1="617.78" y1="539.6" x2="617.78" y2="543.7" stroke="#333" stroke-width="0.95" />
<rect x="610.17" y="531.6" width="15.22" height="8" fill="#00BFC4" stroke="#333" stroke-width="0.95"/>
<line x1="610.17" y1="538.9" x2="625.4" y2="538.9" stroke="#333" stroke-width="1.6" />
<text x="600.6" y="515.1" font-size="7" text-anchor="middle" font-family='"Liberation Sans", sans-serif' font-weight="normal" fill="#000" >211</text>
<text x="618.65" y="515.1" font-size="7" text-anchor="middle" font-family='"Liberation Sans", sans-serif' font-weight="normal" fill="#000" >210</text>
<text x="609.33" y="422.5" font-size="10.8" text-anchor="middle" font-family='"Liberation Sans", sans-serif' font-weight="normal" fill="#000" >ns</text>
<text x="609.33" y="560.1" font-size="5.6" text-anchor="middle" font-family='"Liberation Sans", sans-serif' font-weight="normal" fill="#000" >PIF Harbinger</text>
<text x="609.33" y="566.2" font-size="5.6" text-anchor="middle" font-family='"Liberation Sans", sans-serif' font-weight="normal" fill="#000" >TIR transposon</text>
<line x1="645.98" y1="535.5" x2="645.98" y2="537" stroke="#333" stroke-width="0.95" />
<line x1="645.98" y1="539.9" x2="645.98" y2="540.8" stroke="#333" stroke-width="0.95" />
<rect x="638.36" y="537" width="15.22" height="2.9" fill="#F8766D" stroke="#333" stroke-width="0.95"/>
<line x1="638.36" y1="539" x2="653.59" y2="539" stroke="#333" stroke-width="1.6" />
<line x1="662.89" y1="535.5" x2="662.89" y2="536.7" stroke="#333" stroke-width="0.95" />
<line x1="662.89" y1="539.9" x2="662.89" y2="540.8" stroke="#333" stroke-width="0.95" />
<rect x="655.28" y="536.7" width="15.22" height="3.2" fill="#00BFC4" stroke="#333" stroke-width="0.95"/>
<line x1="655.28" y1="539" x2="670.5" y2="539" stroke="#333" stroke-width="1.6" />
<text x="645.71" y="513.7" font-size="7" text-anchor="middle" font-family='"Liberation Sans", sans-serif' font-weight="normal" fill="#000" >69</text>
<text x="663.76" y="513.7" font-size="7" text-anchor="middle" font-family='"Liberation Sans", sans-serif' font-weight="normal" fill="#000" >69</text>
<text x="654.43" y="422.5" font-size="10.8" text-anchor="middle" font-family='"Liberation Sans", sans-serif' font-weight="normal" fill="#000" >ns</text>
<text x="654.43" y="560.1" font-size="5.6" text-anchor="middle" font-family='"Liberation Sans", sans-serif' font-weight="normal" fill="#000" >Tc1 Mariner TIR</text>
<text x="654.43" y="566.2" font-size="5.6" text-anchor="middle" font-family='"Liberation Sans", sans-serif' font-weight="normal" fill="#000" >transposon</text>
<text x="231" y="580" font-size="8" text-anchor="start" font-family='"Liberation Serif", serif' font-weight="bold" fill="#000" >h</text>
<text transform="translate(240.2,657.6) rotate(-90)" font-size="11.4" letter-spacing="0.35" text-anchor="middle" font-family='"Liberation Serif", serif' fill="#2a2a2a">Methylation Level</text>
<line x1="266.5" y1="573.5" x2="266.5" y2="743" stroke="#2a2a2a" stroke-width="1.07" />
<line x1="266" y1="742.5" x2="681.5" y2="742.5" stroke="#2a2a2a" stroke-width="1" />
<line x1="264.9" y1="735.5" x2="266.5" y2="735.5" stroke="#000" stroke-width="0.9" />
<text x="263.3" y="739.4" font-size="11.1" text-anchor="end" font-family='"Liberation Sans", sans-serif' font-weight="normal" fill="#000" >0</text>
<line x1="264.9" y1="696.98" x2="266.5" y2="696.98" stroke="#000" stroke-width="0.9" />
<text x="263.3" y="700.88" font-size="11.1" text-anchor="end" font-family='"Liberation Sans", sans-serif' font-weight="normal" fill="#000" >25</text>
<line x1="264.9" y1="658.45" x2="266.5" y2="658.45" stroke="#000" stroke-width="0.9" />
<text x="263.3" y="662.35" font-size="11.1" text-anchor="end" font-family='"Liberation Sans", sans-serif' font-weight="normal" fill="#000" >50</text>
<line x1="264.9" y1="619.92" x2="266.5" y2="619.92" stroke="#000" stroke-width="0.9" />
<text x="263.3" y="623.82" font-size="11.1" text-anchor="end" font-family='"Liberation Sans", sans-serif' font-weight="normal" fill="#000" >75</text>
<line x1="264.9" y1="581.4" x2="266.5" y2="581.4" stroke="#000" stroke-width="0.9" />
<text x="263.3" y="585.3" font-size="11.1" text-anchor="end" font-family='"Liberation Sans", sans-serif' font-weight="normal" fill="#000" >100</text>
<line x1="285.11" y1="722.6" x2="285.11" y2="727.2" stroke="#333" stroke-width="0.95" />
<line x1="285.11" y1="730.3" x2="285.11" y2="734.2" stroke="#333" stroke-width="0.95" />
<rect x="277.5" y="727.2" width="15.22" height="3.1" fill="#F8766D" stroke="#333" stroke-width="0.95"/>
<line x1="277.5" y1="729.5" x2="292.72" y2="729.5" stroke="#333" stroke-width="1.6" />
<line x1="302.02" y1="722.3" x2="302.02" y2="726.9" stroke="#333" stroke-width="0.95" />
<line x1="302.02" y1="730.3" x2="302.02" y2="734.2" stroke="#333" stroke-width="0.95" />
<rect x="294.41" y="726.9" width="15.22" height="3.4" fill="#00BFC4" stroke="#333" stroke-width="0.95"/>
<line x1="294.41" y1="729.5" x2="309.64" y2="729.5" stroke="#333" stroke-width="1.6" />
<text x="284.84" y="717.2" font-size="7" text-anchor="middle" font-family='"Liberation Sans", sans-serif' font-weight="normal" fill="#000" >1561</text>
<text x="302.89" y="717.2" font-size="7" text-anchor="middle" font-family='"Liberation Sans", sans-serif' font-weight="normal" fill="#000" >1565</text>
<path d="M286.97,606.4 L286.97,605.2 M286.97,606.4 L285.82,606.03 M286.97,606.4 L286.26,607.37 M286.97,606.4 L287.67,607.37 M286.97,606.4 L288.11,606.03 " stroke="#111" stroke-width="0.85" stroke-linecap="round" fill="none"/>
<circle cx="286.97" cy="606.4" r="0.7" fill="#111"/>
<path d="M291.37,606.4 L291.37,605.2 M291.37,606.4 L290.22,606.03 M291.37,606.4 L290.66,607.37 M291.37,606.4 L292.07,607.37 M291.37,606.4 L292.51,606.03 " stroke="#111" stroke-width="0.85" stroke-linecap="round" fill="none"/>
<circle cx="291.37" cy="606.4" r="0.7" fill="#111"/>
<path d="M295.77,606.4 L295.77,605.2 M295.77,606.4 L294.62,606.03 M295.77,606.4 L295.06,607.37 M295.77,606.4 L296.47,607.37 M295.77,606.4 L296.91,606.03 " stroke="#111" stroke-width="0.85" stroke-linecap="round" fill="none"/>
<circle cx="295.77" cy="606.4" r="0.7" fill="#111"/>
<path d="M300.17,606.4 L300.17,605.2 M300.17,606.4 L299.02,606.03 M300.17,606.4 L299.46,607.37 M300.17,606.4 L300.87,607.37 M300.17,606.4 L301.31,606.03 " stroke="#111" stroke-width="0.85" stroke-linecap="round" fill="none"/>
<circle cx="300.17" cy="606.4" r="0.7" fill="#111"/>
<text x="293.57" y="750.1" font-size="5.6" text-anchor="middle" font-family='"Liberation Sans", sans-serif' font-weight="normal" fill="#000" >CACTA TIR</text>
<text x="293.57" y="756.2" font-size="5.6" text-anchor="middle" font-family='"Liberation Sans", sans-serif' font-weight="normal" fill="#000" >transposon</text>
<line x1="330.22" y1="634" x2="330.22" y2="682.4" stroke="#333" stroke-width="0.95" />
<line x1="330.22" y1="726.2" x2="330.22" y2="731.3" stroke="#333" stroke-width="0.95" />
<rect x="322.6" y="682.4" width="15.22" height="43.8" fill="#F8766D" stroke="#333" stroke-width="0.95"/>
<line x1="322.6" y1="716.4" x2="337.83" y2="716.4" stroke="#333" stroke-width="1.6" />
<line x1="347.13" y1="635" x2="347.13" y2="682.8" stroke="#333" stroke-width="0.95" />
<line x1="347.13" y1="725.2" x2="347.13" y2="731.3" stroke="#333" stroke-width="0.95" />
<rect x="339.52" y="682.8" width="15.22" height="42.4" fill="#00BFC4" stroke="#333" stroke-width="0.95"/>
<line x1="339.52" y1="716" x2="354.74" y2="716" stroke="#333" stroke-width="1.6" />
<text x="329.95" y="700.7" font-size="7" text-anchor="middle" font-family='"Liberation Sans", sans-serif' font-weight="normal" fill="#000" >61</text>
<text x="348" y="700.7" font-size="7" text-anchor="middle" font-family='"Liberation Sans", sans-serif' font-weight="normal" fill="#000" >61</text>
<text x="338.67" y="612.5" font-size="10.8" text-anchor="middle" font-family='"Liberation Sans", sans-serif' font-weight="normal" fill="#000" >ns</text>
<text x="338.67" y="750.1" font-size="5.6" text-anchor="middle" font-family='"Liberation Sans", sans-serif' font-weight="normal" fill="#000" >Copia LTR</text>
<text x="338.67" y="756.2" font-size="5.6" text-anchor="middle" font-family='"Liberation Sans", sans-serif' font-weight="normal" fill="#000" >retrotransposon</text>
<line x1="375.32" y1="670.3" x2="375.32" y2="699.9" stroke="#333" stroke-width="0.95" />
<line x1="375.32" y1="727.3" x2="375.32" y2="732.1" stroke="#333" stroke-width="0.95" />
<rect x="367.71" y="699.9" width="15.22" height="27.4" fill="#F8766D" stroke="#333" stroke-width="0.95"/>
<line x1="367.71" y1="721.6" x2="382.94" y2="721.6" stroke="#333" stroke-width="1.6" />
<line x1="392.24" y1="670.3" x2="392.24" y2="700.4" stroke="#333" stroke-width="0.95" />
<line x1="392.24" y1="727.3" x2="392.24" y2="730.3" stroke="#333" stroke-width="0.95" />
<rect x="384.63" y="700.4" width="15.22" height="26.9" fill="#00BFC4" stroke="#333" stroke-width="0.95"/>
<line x1="384.63" y1="722" x2="399.85" y2="722" stroke="#333" stroke-width="1.6" />
<text x="375.06" y="711.2" font-size="7" text-anchor="middle" font-family='"Liberation Sans", sans-serif' font-weight="normal" fill="#000" >91</text>
<text x="393.1" y="711.2" font-size="7" text-anchor="middle" font-family='"Liberation Sans", sans-serif' font-weight="normal" fill="#000" >92</text>
<text x="383.78" y="612.5" font-size="10.8" text-anchor="middle" font-family='"Liberation Sans", sans-serif' font-weight="normal" fill="#000" >ns</text>
<text x="383.78" y="750.1" font-size="5.6" text-anchor="middle" font-family='"Liberation Sans", sans-serif' font-weight="normal" fill="#000" >Gypsy LTR</text>
<text x="383.78" y="756.2" font-size="5.6" text-anchor="middle" font-family='"Liberation Sans", sans-serif' font-weight="normal" fill="#000" >retrotransposon</text>
<line x1="420.43" y1="722.2" x2="420.43" y2="727.3" stroke="#333" stroke-width="0.95" />
<line x1="420.43" y1="730.3" x2="420.43" y2="734.6" stroke="#333" stroke-width="0.95" />
<rect x="412.82" y="727.3" width="15.22" height="3" fill="#F8766D" stroke="#333" stroke-width="0.95"/>
<line x1="412.82" y1="729" x2="428.05" y2="729" stroke="#333" stroke-width="1.6" />
<line x1="437.35" y1="722.2" x2="437.35" y2="727.3" stroke="#333" stroke-width="0.95" />
<line x1="437.35" y1="730.3" x2="437.35" y2="734.6" stroke="#333" stroke-width="0.95" />
<rect x="429.74" y="727.3" width="15.22" height="3" fill="#00BFC4" stroke="#333" stroke-width="0.95"/>
<line x1="429.74" y1="729" x2="444.96" y2="729" stroke="#333" stroke-width="1.6" />
<text x="420.17" y="718.3" font-size="7" text-anchor="middle" font-family='"Liberation Sans", sans-serif' font-weight="normal" fill="#000" >9919</text>
<text x="438.21" y="718.3" font-size="7" text-anchor="middle" font-family='"Liberation Sans", sans-serif' font-weight="normal" fill="#000" >9929</text>
<path d="M422.29,606.4 L422.29,605.2 M422.29,606.4 L421.15,606.03 M422.29,606.4 L421.59,607.37 M422.29,606.4 L423,607.37 M422.29,606.4 L423.43,606.03 " stroke="#111" stroke-width="0.85" stroke-linecap="round" fill="none"/>
<circle cx="422.29" cy="606.4" r="0.7" fill="#111"/>
<path d="M426.69,606.4 L426.69,605.2 M426.69,606.4 L425.55,606.03 M426.69,606.4 L425.99,607.37 M426.69,606.4 L427.4,607.37 M426.69,606.4 L427.83,606.03 " stroke="#111" stroke-width="0.85" stroke-linecap="round" fill="none"/>
<circle cx="426.69" cy="606.4" r="0.7" fill="#111"/>
<path d="M431.09,606.4 L431.09,605.2 M431.09,606.4 L429.95,606.03 M431.09,606.4 L430.39,607.37 M431.09,606.4 L431.8,607.37 M431.09,606.4 L432.23,606.03 " stroke="#111" stroke-width="0.85" stroke-linecap="round" fill="none"/>
<circle cx="431.09" cy="606.4" r="0.7" fill="#111"/>
<path d="M435.49,606.4 L435.49,605.2 M435.49,606.4 L434.35,606.03 M435.49,606.4 L434.79,607.37 M435.49,606.4 L436.2,607.37 M435.49,606.4 L436.63,606.03 " stroke="#111" stroke-width="0.85" stroke-linecap="round" fill="none"/>
<circle cx="435.49" cy="606.4" r="0.7" fill="#111"/>
<text x="428.89" y="750.1" font-size="5.6" text-anchor="middle" font-family='"Liberation Sans", sans-serif' font-weight="normal" fill="#000" >hAT TIR</text>
<text x="428.89" y="756.2" font-size="5.6" text-anchor="middle" font-family='"Liberation Sans", sans-serif' font-weight="normal" fill="#000" >transposon</text>
<line x1="465.54" y1="719.5" x2="465.54" y2="725.3" stroke="#333" stroke-width="0.95" />
<line x1="465.54" y1="729.6" x2="465.54" y2="733.3" stroke="#333" stroke-width="0.95" />
<rect x="457.93" y="725.3" width="15.22" height="4.3" fill="#F8766D" stroke="#333" stroke-width="0.95"/>
<line x1="457.93" y1="728" x2="473.15" y2="728" stroke="#333" stroke-width="1.6" />
<line x1="482.46" y1="721" x2="482.46" y2="725.3" stroke="#333" stroke-width="0.95" />
<line x1="482.46" y1="729.6" x2="482.46" y2="732.4" stroke="#333" stroke-width="0.95" />
<rect x="474.85" y="725.3" width="15.22" height="4.3" fill="#00BFC4" stroke="#333" stroke-width="0.95"/>
<line x1="474.85" y1="728" x2="490.07" y2="728" stroke="#333" stroke-width="1.6" />
<text x="465.28" y="715.7" font-size="7" text-anchor="middle" font-family='"Liberation Sans", sans-serif' font-weight="normal" fill="#000" >412</text>
<text x="483.32" y="715.7" font-size="7" text-anchor="middle" font-family='"Liberation Sans", sans-serif' font-weight="normal" fill="#000" >410</text>
<text x="474" y="612.5" font-size="10.8" text-anchor="middle" font-family='"Liberation Sans", sans-serif' font-weight="normal" fill="#000" >ns</text>
<text x="474" y="749.9" font-size="5.6" text-anchor="middle" font-family='"Liberation Sans", sans-serif' font-weight="normal" fill="#000" >helitron</text>
<line x1="510.65" y1="715.6" x2="510.65" y2="723.2" stroke="#333" stroke-width="0.95" />
<line x1="510.65" y1="729.6" x2="510.65" y2="731.8" stroke="#333" stroke-width="0.95" />
<rect x="503.04" y="723.2" width="15.22" height="6.4" fill="#F8766D" stroke="#333" stroke-width="0.95"/>
<line x1="503.04" y1="728.2" x2="518.26" y2="728.2" stroke="#333" stroke-width="1.6" />
<line x1="527.57" y1="715.2" x2="527.57" y2="723.2" stroke="#333" stroke-width="0.95" />
<line x1="527.57" y1="729.6" x2="527.57" y2="733.3" stroke="#333" stroke-width="0.95" />
<rect x="519.95" y="723.2" width="15.22" height="6.4" fill="#00BFC4" stroke="#333" stroke-width="0.95"/>
<line x1="519.95" y1="728.2" x2="535.18" y2="728.2" stroke="#333" stroke-width="1.6" />
<text x="510.39" y="714" font-size="7" text-anchor="middle" font-family='"Liberation Sans", sans-serif' font-weight="normal" fill="#000" >237</text>
<text x="528.43" y="714" font-size="7" text-anchor="middle" font-family='"Liberation Sans", sans-serif' font-weight="normal" fill="#000" >238</text>
<path d="M519.11,606.4 L519.11,605.2 M519.11,606.4 L517.97,606.03 M519.11,606.4 L518.4,607.37 M519.11,606.4 L519.81,607.37 M519.11,606.4 L520.25,606.03 " stroke="#111" stroke-width="0.85" stroke-linecap="round" fill="none"/>
<circle cx="519.11" cy="606.4" r="0.7" fill="#111"/>
<text x="519.11" y="750.1" font-size="5.6" text-anchor="middle" font-family='"Liberation Sans", sans-serif' font-weight="normal" fill="#000" >LTR</text>
<text x="519.11" y="756.2" font-size="5.6" text-anchor="middle" font-family='"Liberation Sans", sans-serif' font-weight="normal" fill="#000" >retrotransposon</text>
<line x1="555.76" y1="719" x2="555.76" y2="725.7" stroke="#333" stroke-width="0.95" />
<line x1="555.76" y1="730.4" x2="555.76" y2="734.7" stroke="#333" stroke-width="0.95" />
<rect x="548.15" y="725.7" width="15.22" height="4.7" fill="#F8766D" stroke="#333" stroke-width="0.95"/>
<line x1="548.15" y1="729" x2="563.37" y2="729" stroke="#333" stroke-width="1.6" />
<line x1="572.68" y1="717.9" x2="572.68" y2="725" stroke="#333" stroke-width="0.95" />
<line x1="572.68" y1="730.4" x2="572.68" y2="734.7" stroke="#333" stroke-width="0.95" />
<rect x="565.06" y="725" width="15.22" height="5.4" fill="#00BFC4" stroke="#333" stroke-width="0.95"/>
<line x1="565.06" y1="729" x2="580.29" y2="729" stroke="#333" stroke-width="1.6" />
<text x="555.5" y="712.6" font-size="7" text-anchor="middle" font-family='"Liberation Sans", sans-serif' font-weight="normal" fill="#000" >1803</text>
<text x="573.54" y="712.6" font-size="7" text-anchor="middle" font-family='"Liberation Sans", sans-serif' font-weight="normal" fill="#000" >1801</text>
<path d="M557.62,606.4 L557.62,605.2 M557.62,606.4 L556.48,606.03 M557.62,606.4 L556.91,607.37 M557.62,606.4 L558.32,607.37 M557.62,606.4 L558.76,606.03 " stroke="#111" stroke-width="0.85" stroke-linecap="round" fill="none"/>
<circle cx="557.62" cy="606.4" r="0.7" fill="#111"/>
<path d="M562.02,606.4 L562.02,605.2 M562.02,606.4 L560.88,606.03 M562.02,606.4 L561.31,607.37 M562.02,606.4 L562.72,607.37 M562.02,606.4 L563.16,606.03 " stroke="#111" stroke-width="0.85" stroke-linecap="round" fill="none"/>
<circle cx="562.02" cy="606.4" r="0.7" fill="#111"/>
<path d="M566.42,606.4 L566.42,605.2 M566.42,606.4 L565.28,606.03 M566.42,606.4 L565.71,607.37 M566.42,606.4 L567.12,607.37 M566.42,606.4 L567.56,606.03 " stroke="#111" stroke-width="0.85" stroke-linecap="round" fill="none"/>
<circle cx="566.42" cy="606.4" r="0.7" fill="#111"/>
<path d="M570.82,606.4 L570.82,605.2 M570.82,606.4 L569.68,606.03 M570.82,606.4 L570.11,607.37 M570.82,606.4 L571.52,607.37 M570.82,606.4 L571.96,606.03 " stroke="#111" stroke-width="0.85" stroke-linecap="round" fill="none"/>
<circle cx="570.82" cy="606.4" r="0.7" fill="#111"/>
<text x="564.22" y="750.1" font-size="5.6" text-anchor="middle" font-family='"Liberation Sans", sans-serif' font-weight="normal" fill="#000" >Mutator TIR</text>
<text x="564.22" y="756.2" font-size="5.6" text-anchor="middle" font-family='"Liberation Sans", sans-serif' font-weight="normal" fill="#000" >transposon</text>
<line x1="600.87" y1="667.9" x2="600.87" y2="703.2" stroke="#333" stroke-width="0.95" />
<line x1="600.87" y1="730.2" x2="600.87" y2="734" stroke="#333" stroke-width="0.95" />
<rect x="593.26" y="703.2" width="15.22" height="27" fill="#F8766D" stroke="#333" stroke-width="0.95"/>
<line x1="593.26" y1="728.7" x2="608.48" y2="728.7" stroke="#333" stroke-width="1.6" />
<line x1="617.78" y1="662.5" x2="617.78" y2="701.1" stroke="#333" stroke-width="0.95" />
<line x1="617.78" y1="730.2" x2="617.78" y2="734.7" stroke="#333" stroke-width="0.95" />
<rect x="610.17" y="701.1" width="15.22" height="29.1" fill="#00BFC4" stroke="#333" stroke-width="0.95"/>
<line x1="610.17" y1="728.2" x2="625.4" y2="728.2" stroke="#333" stroke-width="1.6" />
<text x="600.6" y="714.1" font-size="7" text-anchor="middle" font-family='"Liberation Sans", sans-serif' font-weight="normal" fill="#000" >186</text>
<text x="618.65" y="714.1" font-size="7" text-anchor="middle" font-family='"Liberation Sans", sans-serif' font-weight="normal" fill="#000" >188</text>
<text x="609.33" y="612.5" font-size="10.8" text-anchor="middle" font-family='"Liberation Sans", sans-serif' font-weight="normal" fill="#000" >ns</text>
<text x="609.33" y="750.1" font-size="5.6" text-anchor="middle" font-family='"Liberation Sans", sans-serif' font-weight="normal" fill="#000" >PIF Harbinger</text>
<text x="609.33" y="756.2" font-size="5.6" text-anchor="middle" font-family='"Liberation Sans", sans-serif' font-weight="normal" fill="#000" >TIR transposon</text>
<line x1="645.98" y1="691.6" x2="645.98" y2="712.5" stroke="#333" stroke-width="0.95" />
<line x1="645.98" y1="730.2" x2="645.98" y2="731.5" stroke="#333" stroke-width="0.95" />
<rect x="638.36" y="712.5" width="15.22" height="17.7" fill="#F8766D" stroke="#333" stroke-width="0.95"/>
<line x1="638.36" y1="729.1" x2="653.59" y2="729.1" stroke="#333" stroke-width="1.6" />
<line x1="662.89" y1="691" x2="662.89" y2="709.3" stroke="#333" stroke-width="0.95" />
<line x1="662.89" y1="730.2" x2="662.89" y2="734" stroke="#333" stroke-width="0.95" />
<rect x="655.28" y="709.3" width="15.22" height="20.9" fill="#00BFC4" stroke="#333" stroke-width="0.95"/>
<line x1="655.28" y1="728.7" x2="670.5" y2="728.7" stroke="#333" stroke-width="1.6" />
<text x="645.71" y="718.9" font-size="7" text-anchor="middle" font-family='"Liberation Sans", sans-serif' font-weight="normal" fill="#000" >64</text>
<text x="663.76" y="718.9" font-size="7" text-anchor="middle" font-family='"Liberation Sans", sans-serif' font-weight="normal" fill="#000" >64</text>
<text x="654.43" y="612.5" font-size="10.8" text-anchor="middle" font-family='"Liberation Sans", sans-serif' font-weight="normal" fill="#000" >ns</text>
<text x="654.43" y="750.1" font-size="5.6" text-anchor="middle" font-family='"Liberation Sans", sans-serif' font-weight="normal" fill="#000" >Tc1 Mariner TIR</text>
<text x="654.43" y="756.2" font-size="5.6" text-anchor="middle" font-family='"Liberation Sans", sans-serif' font-weight="normal" fill="#000" >transposon</text>
<text x="232" y="784.5" font-size="14.9" text-anchor="start" font-family='"Liberation Serif", serif' font-weight="normal" fill="#000" >Treament</text>
<line x1="292.3" y1="779.8" x2="301" y2="779.8" stroke="#F8766D" stroke-width="1.7" stroke-opacity="0.4"/>
<text x="303.3" y="782.9" font-size="11.3" text-anchor="start" font-family='"Liberation Serif", serif' font-weight="normal" fill="#000" >Non&#8722;viruliferous</text>
<line x1="388.5" y1="779.8" x2="397.7" y2="779.8" stroke="#00BFC4" stroke-width="1.7" stroke-opacity="0.4"/>
<text x="399" y="782.9" font-size="11.1" text-anchor="start" font-family='"Liberation Serif", serif' font-weight="normal" fill="#000" >Viruliferous</text>
</svg></body></html>
